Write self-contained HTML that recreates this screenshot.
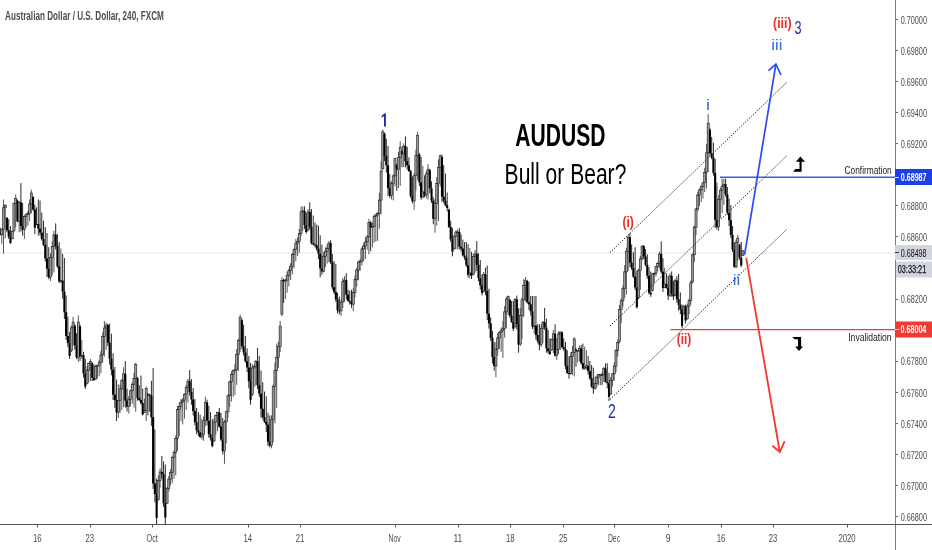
<!DOCTYPE html>
<html><head><meta charset="utf-8"><style>
html,body{margin:0;padding:0;background:#fff;}
svg{display:block;will-change:transform;}
text{font-family:"Liberation Sans",sans-serif;}
</style></head><body>
<svg width="932" height="550" viewBox="0 0 932 550">
<rect width="932" height="550" fill="#fff"/>
<line x1="0" y1="253" x2="895" y2="253" stroke="#d2d5de" stroke-width="1" stroke-dasharray="1 1"/>
<g>
<line x1="0.02" y1="227.4" x2="0.02" y2="235.6" stroke="#111" stroke-width="0.9"/>
<rect x="-1.03" y="231.5" width="2.1" height="3.3" fill="#000"/>
<line x1="1.76" y1="228.3" x2="1.76" y2="243.8" stroke="#444" stroke-width="0.9"/>
<rect x="0.71" y="229.2" width="2.1" height="5.6" fill="#9a9a9a" stroke="#111" stroke-width="0.55"/>
<line x1="3.50" y1="199.5" x2="3.50" y2="253.6" stroke="#444" stroke-width="0.9"/>
<rect x="2.45" y="207.8" width="2.1" height="21.4" fill="#9a9a9a" stroke="#111" stroke-width="0.55"/>
<line x1="5.24" y1="204.1" x2="5.24" y2="238.4" stroke="#444" stroke-width="0.9"/>
<rect x="4.19" y="205.6" width="2.1" height="2.2" fill="#9a9a9a" stroke="#111" stroke-width="0.55"/>
<line x1="6.98" y1="217.1" x2="6.98" y2="232.3" stroke="#111" stroke-width="0.9"/>
<rect x="5.93" y="217.9" width="2.1" height="12.4" fill="#000"/>
<line x1="8.72" y1="219.2" x2="8.72" y2="238.9" stroke="#111" stroke-width="0.9"/>
<rect x="7.67" y="230.3" width="2.1" height="6.6" fill="#000"/>
<line x1="10.46" y1="226.2" x2="10.46" y2="243.8" stroke="#111" stroke-width="0.9"/>
<rect x="9.41" y="236.9" width="2.1" height="6.1" fill="#000"/>
<line x1="12.20" y1="230.5" x2="12.20" y2="239.2" stroke="#444" stroke-width="0.9"/>
<rect x="11.15" y="231.6" width="2.1" height="7.2" fill="#9a9a9a" stroke="#111" stroke-width="0.55"/>
<line x1="13.94" y1="202.6" x2="13.94" y2="232.3" stroke="#444" stroke-width="0.9"/>
<rect x="12.89" y="203.7" width="2.1" height="27.1" fill="#9a9a9a" stroke="#111" stroke-width="0.55"/>
<line x1="15.68" y1="194.6" x2="15.68" y2="227.4" stroke="#444" stroke-width="0.9"/>
<rect x="14.63" y="198.3" width="2.1" height="5.4" fill="#9a9a9a" stroke="#111" stroke-width="0.55"/>
<line x1="17.42" y1="199.5" x2="17.42" y2="222.3" stroke="#111" stroke-width="0.9"/>
<rect x="16.37" y="200.6" width="2.1" height="20.7" fill="#000"/>
<line x1="19.16" y1="200.9" x2="19.16" y2="232.3" stroke="#444" stroke-width="0.9"/>
<rect x="18.11" y="202.4" width="2.1" height="18.9" fill="#9a9a9a" stroke="#111" stroke-width="0.55"/>
<line x1="20.90" y1="183.1" x2="20.90" y2="231.5" stroke="#111" stroke-width="0.9"/>
<rect x="19.85" y="202.4" width="2.1" height="23.7" fill="#000"/>
<line x1="22.64" y1="202.8" x2="22.64" y2="235.6" stroke="#111" stroke-width="0.9"/>
<rect x="21.59" y="226.2" width="2.1" height="3.3" fill="#000"/>
<line x1="24.38" y1="215.3" x2="24.38" y2="238.9" stroke="#444" stroke-width="0.9"/>
<rect x="23.33" y="216.6" width="2.1" height="12.8" fill="#9a9a9a" stroke="#111" stroke-width="0.55"/>
<line x1="26.12" y1="213.5" x2="26.12" y2="227.4" stroke="#444" stroke-width="0.9"/>
<rect x="25.07" y="214.5" width="2.1" height="2.0" fill="#9a9a9a" stroke="#111" stroke-width="0.55"/>
<line x1="27.86" y1="211.0" x2="27.86" y2="225.7" stroke="#444" stroke-width="0.9"/>
<rect x="26.81" y="213.2" width="2.1" height="1.3" fill="#9a9a9a" stroke="#111" stroke-width="0.55"/>
<line x1="29.60" y1="199.5" x2="29.60" y2="221.1" stroke="#444" stroke-width="0.9"/>
<rect x="28.55" y="204.0" width="2.1" height="9.2" fill="#9a9a9a" stroke="#111" stroke-width="0.55"/>
<line x1="31.34" y1="189.7" x2="31.34" y2="213.5" stroke="#444" stroke-width="0.9"/>
<rect x="30.29" y="193.0" width="2.1" height="11.0" fill="#9a9a9a" stroke="#111" stroke-width="0.55"/>
<line x1="33.08" y1="196.3" x2="33.08" y2="211.0" stroke="#111" stroke-width="0.9"/>
<rect x="32.03" y="197.0" width="2.1" height="12.4" fill="#000"/>
<line x1="34.82" y1="204.5" x2="34.82" y2="234.0" stroke="#111" stroke-width="0.9"/>
<rect x="33.77" y="209.5" width="2.1" height="18.2" fill="#000"/>
<line x1="36.56" y1="207.4" x2="36.56" y2="224.8" stroke="#111" stroke-width="0.9"/>
<rect x="35.51" y="223.9" width="2.1" height="1.0" fill="#000"/>
<line x1="38.30" y1="199.5" x2="38.30" y2="235.6" stroke="#111" stroke-width="0.9"/>
<rect x="37.25" y="224.1" width="2.1" height="4.5" fill="#000"/>
<line x1="40.04" y1="200.5" x2="40.04" y2="235.5" stroke="#111" stroke-width="0.9"/>
<rect x="38.99" y="228.6" width="2.1" height="3.9" fill="#000"/>
<line x1="41.78" y1="212.5" x2="41.78" y2="240.6" stroke="#111" stroke-width="0.9"/>
<rect x="40.73" y="232.5" width="2.1" height="6.5" fill="#000"/>
<line x1="43.52" y1="220.6" x2="43.52" y2="246.0" stroke="#111" stroke-width="0.9"/>
<rect x="42.47" y="239.0" width="2.1" height="5.7" fill="#000"/>
<line x1="45.26" y1="227.0" x2="45.26" y2="261.5" stroke="#111" stroke-width="0.9"/>
<rect x="44.21" y="244.7" width="2.1" height="13.8" fill="#000"/>
<line x1="47.00" y1="233.0" x2="47.00" y2="276.9" stroke="#111" stroke-width="0.9"/>
<rect x="45.95" y="258.4" width="2.1" height="10.4" fill="#000"/>
<line x1="48.74" y1="247.2" x2="48.74" y2="279.3" stroke="#111" stroke-width="0.9"/>
<rect x="47.69" y="268.8" width="2.1" height="8.4" fill="#000"/>
<line x1="50.48" y1="253.6" x2="50.48" y2="281.0" stroke="#444" stroke-width="0.9"/>
<rect x="49.43" y="257.5" width="2.1" height="19.8" fill="#9a9a9a" stroke="#111" stroke-width="0.55"/>
<line x1="52.22" y1="241.3" x2="52.22" y2="275.4" stroke="#444" stroke-width="0.9"/>
<rect x="51.17" y="246.5" width="2.1" height="11.0" fill="#9a9a9a" stroke="#111" stroke-width="0.55"/>
<line x1="53.96" y1="230.6" x2="53.96" y2="272.5" stroke="#444" stroke-width="0.9"/>
<rect x="52.91" y="234.8" width="2.1" height="11.7" fill="#9a9a9a" stroke="#111" stroke-width="0.55"/>
<line x1="55.70" y1="223.4" x2="55.70" y2="249.5" stroke="#111" stroke-width="0.9"/>
<rect x="54.65" y="234.8" width="2.1" height="11.3" fill="#000"/>
<line x1="57.44" y1="233.8" x2="57.44" y2="267.7" stroke="#111" stroke-width="0.9"/>
<rect x="56.39" y="246.0" width="2.1" height="20.3" fill="#000"/>
<line x1="59.18" y1="242.0" x2="59.18" y2="283.0" stroke="#111" stroke-width="0.9"/>
<rect x="58.13" y="266.3" width="2.1" height="15.0" fill="#000"/>
<line x1="60.92" y1="248.5" x2="60.92" y2="283.0" stroke="#444" stroke-width="0.9"/>
<rect x="59.87" y="280.6" width="2.1" height="1.0" fill="#9a9a9a" stroke="#111" stroke-width="0.55"/>
<line x1="62.66" y1="253.9" x2="62.66" y2="298.7" stroke="#111" stroke-width="0.9"/>
<rect x="61.61" y="280.6" width="2.1" height="11.0" fill="#000"/>
<line x1="64.40" y1="258.0" x2="64.40" y2="319.0" stroke="#111" stroke-width="0.9"/>
<rect x="63.35" y="291.6" width="2.1" height="20.6" fill="#000"/>
<line x1="66.14" y1="295.4" x2="66.14" y2="340.0" stroke="#111" stroke-width="0.9"/>
<rect x="65.09" y="312.2" width="2.1" height="23.8" fill="#000"/>
<line x1="67.88" y1="316.6" x2="67.88" y2="347.3" stroke="#111" stroke-width="0.9"/>
<rect x="66.83" y="336.0" width="2.1" height="7.0" fill="#000"/>
<line x1="69.62" y1="331.9" x2="69.62" y2="359.0" stroke="#111" stroke-width="0.9"/>
<rect x="68.57" y="343.0" width="2.1" height="12.9" fill="#000"/>
<line x1="71.36" y1="325.6" x2="71.36" y2="352.1" stroke="#444" stroke-width="0.9"/>
<rect x="70.31" y="327.9" width="2.1" height="22.9" fill="#9a9a9a" stroke="#111" stroke-width="0.55"/>
<line x1="73.10" y1="317.0" x2="73.10" y2="345.3" stroke="#444" stroke-width="0.9"/>
<rect x="72.05" y="322.1" width="2.1" height="5.7" fill="#9a9a9a" stroke="#111" stroke-width="0.55"/>
<line x1="74.84" y1="324.4" x2="74.84" y2="349.8" stroke="#111" stroke-width="0.9"/>
<rect x="73.79" y="325.7" width="2.1" height="19.9" fill="#000"/>
<line x1="76.58" y1="333.3" x2="76.58" y2="359.2" stroke="#111" stroke-width="0.9"/>
<rect x="75.53" y="345.6" width="2.1" height="11.6" fill="#000"/>
<line x1="78.32" y1="315.5" x2="78.32" y2="362.0" stroke="#444" stroke-width="0.9"/>
<rect x="77.27" y="322.0" width="2.1" height="35.3" fill="#9a9a9a" stroke="#111" stroke-width="0.55"/>
<line x1="80.06" y1="324.8" x2="80.06" y2="360.9" stroke="#111" stroke-width="0.9"/>
<rect x="79.01" y="326.6" width="2.1" height="29.6" fill="#000"/>
<line x1="81.80" y1="340.0" x2="81.80" y2="359.0" stroke="#444" stroke-width="0.9"/>
<rect x="80.75" y="355.3" width="2.1" height="1.0" fill="#9a9a9a" stroke="#111" stroke-width="0.55"/>
<line x1="83.54" y1="351.8" x2="83.54" y2="377.6" stroke="#111" stroke-width="0.9"/>
<rect x="82.49" y="355.3" width="2.1" height="18.0" fill="#000"/>
<line x1="85.28" y1="359.0" x2="85.28" y2="389.0" stroke="#111" stroke-width="0.9"/>
<rect x="84.23" y="373.3" width="2.1" height="13.2" fill="#000"/>
<line x1="87.02" y1="366.2" x2="87.02" y2="384.5" stroke="#444" stroke-width="0.9"/>
<rect x="85.97" y="370.1" width="2.1" height="13.5" fill="#9a9a9a" stroke="#111" stroke-width="0.55"/>
<line x1="88.76" y1="362.7" x2="88.76" y2="382.4" stroke="#444" stroke-width="0.9"/>
<rect x="87.71" y="363.7" width="2.1" height="6.4" fill="#9a9a9a" stroke="#111" stroke-width="0.55"/>
<line x1="90.50" y1="359.0" x2="90.50" y2="381.0" stroke="#444" stroke-width="0.9"/>
<rect x="89.45" y="361.4" width="2.1" height="2.3" fill="#9a9a9a" stroke="#111" stroke-width="0.55"/>
<line x1="92.24" y1="362.1" x2="92.24" y2="381.0" stroke="#111" stroke-width="0.9"/>
<rect x="91.19" y="363.1" width="2.1" height="14.7" fill="#000"/>
<line x1="93.98" y1="364.5" x2="93.98" y2="381.0" stroke="#111" stroke-width="0.9"/>
<rect x="92.93" y="377.7" width="2.1" height="2.3" fill="#000"/>
<line x1="95.72" y1="364.7" x2="95.72" y2="379.8" stroke="#444" stroke-width="0.9"/>
<rect x="94.67" y="366.6" width="2.1" height="12.5" fill="#9a9a9a" stroke="#111" stroke-width="0.55"/>
<line x1="97.46" y1="364.7" x2="97.46" y2="378.5" stroke="#444" stroke-width="0.9"/>
<rect x="96.41" y="365.2" width="2.1" height="1.3" fill="#9a9a9a" stroke="#111" stroke-width="0.55"/>
<line x1="99.20" y1="359.8" x2="99.20" y2="376.2" stroke="#444" stroke-width="0.9"/>
<rect x="98.15" y="362.4" width="2.1" height="2.8" fill="#9a9a9a" stroke="#111" stroke-width="0.55"/>
<line x1="100.94" y1="351.0" x2="100.94" y2="373.1" stroke="#444" stroke-width="0.9"/>
<rect x="99.89" y="354.9" width="2.1" height="7.5" fill="#9a9a9a" stroke="#111" stroke-width="0.55"/>
<line x1="102.68" y1="332.3" x2="102.68" y2="362.7" stroke="#444" stroke-width="0.9"/>
<rect x="101.63" y="336.6" width="2.1" height="18.3" fill="#9a9a9a" stroke="#111" stroke-width="0.55"/>
<line x1="104.42" y1="321.0" x2="104.42" y2="356.5" stroke="#444" stroke-width="0.9"/>
<rect x="103.37" y="328.0" width="2.1" height="8.6" fill="#9a9a9a" stroke="#111" stroke-width="0.55"/>
<line x1="106.16" y1="322.6" x2="106.16" y2="350.0" stroke="#444" stroke-width="0.9"/>
<rect x="105.11" y="325.1" width="2.1" height="2.9" fill="#9a9a9a" stroke="#111" stroke-width="0.55"/>
<line x1="107.90" y1="323.7" x2="107.90" y2="346.3" stroke="#111" stroke-width="0.9"/>
<rect x="106.85" y="325.1" width="2.1" height="17.6" fill="#000"/>
<line x1="109.64" y1="323.7" x2="109.64" y2="364.7" stroke="#111" stroke-width="0.9"/>
<rect x="108.59" y="342.6" width="2.1" height="16.2" fill="#000"/>
<line x1="111.38" y1="333.7" x2="111.38" y2="375.4" stroke="#111" stroke-width="0.9"/>
<rect x="110.33" y="358.8" width="2.1" height="10.7" fill="#000"/>
<line x1="113.12" y1="353.3" x2="113.12" y2="400.0" stroke="#111" stroke-width="0.9"/>
<rect x="112.07" y="369.6" width="2.1" height="25.0" fill="#000"/>
<line x1="114.86" y1="367.0" x2="114.86" y2="407.9" stroke="#111" stroke-width="0.9"/>
<rect x="113.81" y="394.6" width="2.1" height="5.6" fill="#000"/>
<line x1="116.60" y1="379.5" x2="116.60" y2="421.0" stroke="#111" stroke-width="0.9"/>
<rect x="115.55" y="400.1" width="2.1" height="12.2" fill="#000"/>
<line x1="118.34" y1="384.5" x2="118.34" y2="417.9" stroke="#444" stroke-width="0.9"/>
<rect x="117.29" y="400.7" width="2.1" height="11.6" fill="#9a9a9a" stroke="#111" stroke-width="0.55"/>
<line x1="120.08" y1="384.5" x2="120.08" y2="412.7" stroke="#444" stroke-width="0.9"/>
<rect x="119.03" y="388.9" width="2.1" height="11.8" fill="#9a9a9a" stroke="#111" stroke-width="0.55"/>
<line x1="121.82" y1="379.0" x2="121.82" y2="410.0" stroke="#444" stroke-width="0.9"/>
<rect x="120.77" y="380.3" width="2.1" height="8.6" fill="#9a9a9a" stroke="#111" stroke-width="0.55"/>
<line x1="123.56" y1="367.3" x2="123.56" y2="407.1" stroke="#444" stroke-width="0.9"/>
<rect x="122.51" y="373.8" width="2.1" height="6.5" fill="#9a9a9a" stroke="#111" stroke-width="0.55"/>
<line x1="125.30" y1="361.0" x2="125.30" y2="407.7" stroke="#111" stroke-width="0.9"/>
<rect x="124.25" y="373.8" width="2.1" height="26.8" fill="#000"/>
<line x1="127.04" y1="388.6" x2="127.04" y2="411.5" stroke="#111" stroke-width="0.9"/>
<rect x="125.99" y="400.6" width="2.1" height="5.9" fill="#000"/>
<line x1="128.78" y1="396.0" x2="128.78" y2="413.6" stroke="#444" stroke-width="0.9"/>
<rect x="127.73" y="399.3" width="2.1" height="7.2" fill="#9a9a9a" stroke="#111" stroke-width="0.55"/>
<line x1="130.52" y1="389.4" x2="130.52" y2="406.4" stroke="#444" stroke-width="0.9"/>
<rect x="129.47" y="390.8" width="2.1" height="8.5" fill="#9a9a9a" stroke="#111" stroke-width="0.55"/>
<line x1="132.26" y1="382.1" x2="132.26" y2="403.7" stroke="#444" stroke-width="0.9"/>
<rect x="131.21" y="384.3" width="2.1" height="6.5" fill="#9a9a9a" stroke="#111" stroke-width="0.55"/>
<line x1="134.00" y1="372.8" x2="134.00" y2="407.6" stroke="#444" stroke-width="0.9"/>
<rect x="132.95" y="378.3" width="2.1" height="6.0" fill="#9a9a9a" stroke="#111" stroke-width="0.55"/>
<line x1="135.74" y1="362.7" x2="135.74" y2="411.8" stroke="#444" stroke-width="0.9"/>
<rect x="134.69" y="364.4" width="2.1" height="13.9" fill="#9a9a9a" stroke="#111" stroke-width="0.55"/>
<line x1="137.48" y1="377.0" x2="137.48" y2="400.6" stroke="#111" stroke-width="0.9"/>
<rect x="136.43" y="378.2" width="2.1" height="19.6" fill="#000"/>
<line x1="139.22" y1="385.2" x2="139.22" y2="401.0" stroke="#111" stroke-width="0.9"/>
<rect x="138.17" y="397.8" width="2.1" height="2.2" fill="#000"/>
<line x1="140.96" y1="375.5" x2="140.96" y2="404.5" stroke="#111" stroke-width="0.9"/>
<rect x="139.91" y="400.0" width="2.1" height="3.0" fill="#000"/>
<line x1="142.70" y1="388.6" x2="142.70" y2="415.5" stroke="#111" stroke-width="0.9"/>
<rect x="141.65" y="403.0" width="2.1" height="11.4" fill="#000"/>
<line x1="144.44" y1="398.7" x2="144.44" y2="413.0" stroke="#444" stroke-width="0.9"/>
<rect x="143.39" y="410.4" width="2.1" height="1.8" fill="#9a9a9a" stroke="#111" stroke-width="0.55"/>
<line x1="146.18" y1="386.4" x2="146.18" y2="421.0" stroke="#444" stroke-width="0.9"/>
<rect x="145.13" y="388.3" width="2.1" height="22.2" fill="#9a9a9a" stroke="#111" stroke-width="0.55"/>
<line x1="147.92" y1="393.2" x2="147.92" y2="415.3" stroke="#111" stroke-width="0.9"/>
<rect x="146.87" y="394.3" width="2.1" height="1.0" fill="#000"/>
<line x1="149.66" y1="393.6" x2="149.66" y2="411.8" stroke="#111" stroke-width="0.9"/>
<rect x="148.61" y="394.9" width="2.1" height="1.0" fill="#000"/>
<line x1="151.40" y1="380.8" x2="151.40" y2="425.9" stroke="#111" stroke-width="0.9"/>
<rect x="150.35" y="395.5" width="2.1" height="21.6" fill="#000"/>
<line x1="153.14" y1="368.0" x2="153.14" y2="489.0" stroke="#111" stroke-width="0.9"/>
<rect x="152.09" y="417.1" width="2.1" height="66.4" fill="#000"/>
<line x1="154.88" y1="429.6" x2="154.88" y2="502.4" stroke="#111" stroke-width="0.9"/>
<rect x="153.83" y="483.5" width="2.1" height="10.5" fill="#000"/>
<line x1="156.62" y1="478.6" x2="156.62" y2="524.0" stroke="#111" stroke-width="0.9"/>
<rect x="155.57" y="494.0" width="2.1" height="23.9" fill="#000"/>
<line x1="158.36" y1="475.5" x2="158.36" y2="500.8" stroke="#444" stroke-width="0.9"/>
<rect x="157.31" y="480.5" width="2.1" height="19.0" fill="#9a9a9a" stroke="#111" stroke-width="0.55"/>
<line x1="160.10" y1="468.3" x2="160.10" y2="487.7" stroke="#444" stroke-width="0.9"/>
<rect x="159.05" y="471.9" width="2.1" height="8.6" fill="#9a9a9a" stroke="#111" stroke-width="0.55"/>
<line x1="161.84" y1="456.0" x2="161.84" y2="478.5" stroke="#111" stroke-width="0.9"/>
<rect x="160.79" y="471.9" width="2.1" height="2.1" fill="#000"/>
<line x1="163.58" y1="461.4" x2="163.58" y2="506.9" stroke="#111" stroke-width="0.9"/>
<rect x="162.53" y="474.1" width="2.1" height="29.1" fill="#000"/>
<line x1="165.32" y1="464.5" x2="165.32" y2="524.0" stroke="#111" stroke-width="0.9"/>
<rect x="164.27" y="503.1" width="2.1" height="14.4" fill="#000"/>
<line x1="167.06" y1="486.7" x2="167.06" y2="504.0" stroke="#444" stroke-width="0.9"/>
<rect x="166.01" y="488.4" width="2.1" height="14.7" fill="#9a9a9a" stroke="#111" stroke-width="0.55"/>
<line x1="168.80" y1="476.0" x2="168.80" y2="491.3" stroke="#444" stroke-width="0.9"/>
<rect x="167.75" y="479.0" width="2.1" height="9.4" fill="#9a9a9a" stroke="#111" stroke-width="0.55"/>
<line x1="170.54" y1="469.1" x2="170.54" y2="485.4" stroke="#444" stroke-width="0.9"/>
<rect x="169.49" y="472.6" width="2.1" height="6.5" fill="#9a9a9a" stroke="#111" stroke-width="0.55"/>
<line x1="172.28" y1="456.0" x2="172.28" y2="483.1" stroke="#444" stroke-width="0.9"/>
<rect x="171.23" y="457.6" width="2.1" height="15.0" fill="#9a9a9a" stroke="#111" stroke-width="0.55"/>
<line x1="174.02" y1="450.5" x2="174.02" y2="478.7" stroke="#444" stroke-width="0.9"/>
<rect x="172.97" y="452.3" width="2.1" height="5.3" fill="#9a9a9a" stroke="#111" stroke-width="0.55"/>
<line x1="175.76" y1="435.4" x2="175.76" y2="475.5" stroke="#444" stroke-width="0.9"/>
<rect x="174.71" y="438.4" width="2.1" height="13.9" fill="#9a9a9a" stroke="#111" stroke-width="0.55"/>
<line x1="177.50" y1="406.0" x2="177.50" y2="451.0" stroke="#444" stroke-width="0.9"/>
<rect x="176.45" y="409.3" width="2.1" height="29.1" fill="#9a9a9a" stroke="#111" stroke-width="0.55"/>
<line x1="179.24" y1="402.6" x2="179.24" y2="436.0" stroke="#444" stroke-width="0.9"/>
<rect x="178.19" y="406.7" width="2.1" height="2.6" fill="#9a9a9a" stroke="#111" stroke-width="0.55"/>
<line x1="180.98" y1="399.0" x2="180.98" y2="421.2" stroke="#444" stroke-width="0.9"/>
<rect x="179.93" y="402.1" width="2.1" height="4.6" fill="#9a9a9a" stroke="#111" stroke-width="0.55"/>
<line x1="182.72" y1="398.0" x2="182.72" y2="424.4" stroke="#444" stroke-width="0.9"/>
<rect x="181.67" y="400.1" width="2.1" height="2.0" fill="#9a9a9a" stroke="#111" stroke-width="0.55"/>
<line x1="184.46" y1="393.4" x2="184.46" y2="418.6" stroke="#444" stroke-width="0.9"/>
<rect x="183.41" y="394.2" width="2.1" height="5.9" fill="#9a9a9a" stroke="#111" stroke-width="0.55"/>
<line x1="186.20" y1="385.0" x2="186.20" y2="410.0" stroke="#444" stroke-width="0.9"/>
<rect x="185.15" y="387.7" width="2.1" height="6.5" fill="#9a9a9a" stroke="#111" stroke-width="0.55"/>
<line x1="187.94" y1="378.7" x2="187.94" y2="402.6" stroke="#444" stroke-width="0.9"/>
<rect x="186.89" y="381.1" width="2.1" height="6.6" fill="#9a9a9a" stroke="#111" stroke-width="0.55"/>
<line x1="189.68" y1="370.0" x2="189.68" y2="395.5" stroke="#111" stroke-width="0.9"/>
<rect x="188.63" y="381.1" width="2.1" height="10.9" fill="#000"/>
<line x1="191.42" y1="379.1" x2="191.42" y2="404.9" stroke="#111" stroke-width="0.9"/>
<rect x="190.37" y="392.0" width="2.1" height="7.5" fill="#000"/>
<line x1="193.16" y1="388.0" x2="193.16" y2="415.5" stroke="#111" stroke-width="0.9"/>
<rect x="192.11" y="399.5" width="2.1" height="11.6" fill="#000"/>
<line x1="194.90" y1="399.2" x2="194.90" y2="425.4" stroke="#111" stroke-width="0.9"/>
<rect x="193.85" y="411.1" width="2.1" height="11.0" fill="#000"/>
<line x1="196.64" y1="408.0" x2="196.64" y2="434.3" stroke="#111" stroke-width="0.9"/>
<rect x="195.59" y="422.1" width="2.1" height="8.3" fill="#000"/>
<line x1="198.38" y1="412.0" x2="198.38" y2="436.1" stroke="#111" stroke-width="0.9"/>
<rect x="197.33" y="430.4" width="2.1" height="1.9" fill="#000"/>
<line x1="200.12" y1="414.6" x2="200.12" y2="437.9" stroke="#111" stroke-width="0.9"/>
<rect x="199.07" y="432.3" width="2.1" height="4.7" fill="#000"/>
<line x1="201.86" y1="418.8" x2="201.86" y2="439.7" stroke="#444" stroke-width="0.9"/>
<rect x="200.81" y="434.2" width="2.1" height="2.8" fill="#9a9a9a" stroke="#111" stroke-width="0.55"/>
<line x1="203.60" y1="416.4" x2="203.60" y2="440.8" stroke="#444" stroke-width="0.9"/>
<rect x="202.55" y="420.8" width="2.1" height="13.5" fill="#9a9a9a" stroke="#111" stroke-width="0.55"/>
<line x1="205.34" y1="396.6" x2="205.34" y2="426.3" stroke="#444" stroke-width="0.9"/>
<rect x="204.29" y="402.4" width="2.1" height="18.3" fill="#9a9a9a" stroke="#111" stroke-width="0.55"/>
<line x1="207.08" y1="399.6" x2="207.08" y2="425.4" stroke="#111" stroke-width="0.9"/>
<rect x="206.03" y="402.4" width="2.1" height="18.3" fill="#000"/>
<line x1="208.82" y1="405.7" x2="208.82" y2="437.5" stroke="#111" stroke-width="0.9"/>
<rect x="207.77" y="420.7" width="2.1" height="13.4" fill="#000"/>
<line x1="210.56" y1="412.2" x2="210.56" y2="440.7" stroke="#111" stroke-width="0.9"/>
<rect x="209.51" y="434.2" width="2.1" height="3.5" fill="#000"/>
<line x1="212.30" y1="419.0" x2="212.30" y2="447.4" stroke="#111" stroke-width="0.9"/>
<rect x="211.25" y="437.7" width="2.1" height="8.3" fill="#000"/>
<line x1="214.04" y1="418.5" x2="214.04" y2="442.2" stroke="#444" stroke-width="0.9"/>
<rect x="212.99" y="422.1" width="2.1" height="18.9" fill="#9a9a9a" stroke="#111" stroke-width="0.55"/>
<line x1="215.78" y1="414.6" x2="215.78" y2="434.9" stroke="#444" stroke-width="0.9"/>
<rect x="214.73" y="415.4" width="2.1" height="6.6" fill="#9a9a9a" stroke="#111" stroke-width="0.55"/>
<line x1="217.52" y1="411.6" x2="217.52" y2="431.1" stroke="#444" stroke-width="0.9"/>
<rect x="216.47" y="412.4" width="2.1" height="3.1" fill="#9a9a9a" stroke="#111" stroke-width="0.55"/>
<line x1="219.26" y1="408.0" x2="219.26" y2="427.8" stroke="#111" stroke-width="0.9"/>
<rect x="218.21" y="412.4" width="2.1" height="14.0" fill="#000"/>
<line x1="221.00" y1="413.1" x2="221.00" y2="441.2" stroke="#111" stroke-width="0.9"/>
<rect x="219.95" y="426.4" width="2.1" height="13.1" fill="#000"/>
<line x1="222.74" y1="417.9" x2="222.74" y2="454.5" stroke="#111" stroke-width="0.9"/>
<rect x="221.69" y="439.5" width="2.1" height="11.5" fill="#000"/>
<line x1="224.48" y1="420.1" x2="224.48" y2="463.8" stroke="#444" stroke-width="0.9"/>
<rect x="223.43" y="421.9" width="2.1" height="29.2" fill="#9a9a9a" stroke="#111" stroke-width="0.55"/>
<line x1="226.22" y1="410.8" x2="226.22" y2="443.4" stroke="#444" stroke-width="0.9"/>
<rect x="225.17" y="411.8" width="2.1" height="10.1" fill="#9a9a9a" stroke="#111" stroke-width="0.55"/>
<line x1="227.96" y1="394.4" x2="227.96" y2="417.9" stroke="#444" stroke-width="0.9"/>
<rect x="226.91" y="395.8" width="2.1" height="16.0" fill="#9a9a9a" stroke="#111" stroke-width="0.55"/>
<line x1="229.70" y1="380.7" x2="229.70" y2="407.0" stroke="#444" stroke-width="0.9"/>
<rect x="228.65" y="382.0" width="2.1" height="13.8" fill="#9a9a9a" stroke="#111" stroke-width="0.55"/>
<line x1="231.44" y1="371.4" x2="231.44" y2="401.5" stroke="#444" stroke-width="0.9"/>
<rect x="230.39" y="374.3" width="2.1" height="7.6" fill="#9a9a9a" stroke="#111" stroke-width="0.55"/>
<line x1="233.18" y1="369.6" x2="233.18" y2="396.8" stroke="#444" stroke-width="0.9"/>
<rect x="232.13" y="370.6" width="2.1" height="3.8" fill="#9a9a9a" stroke="#111" stroke-width="0.55"/>
<line x1="234.92" y1="363.8" x2="234.92" y2="395.0" stroke="#444" stroke-width="0.9"/>
<rect x="233.87" y="369.9" width="2.1" height="1.0" fill="#9a9a9a" stroke="#111" stroke-width="0.55"/>
<line x1="236.66" y1="349.0" x2="236.66" y2="384.8" stroke="#444" stroke-width="0.9"/>
<rect x="235.61" y="354.2" width="2.1" height="15.7" fill="#9a9a9a" stroke="#111" stroke-width="0.55"/>
<line x1="238.40" y1="338.6" x2="238.40" y2="370.9" stroke="#444" stroke-width="0.9"/>
<rect x="237.35" y="340.5" width="2.1" height="13.8" fill="#9a9a9a" stroke="#111" stroke-width="0.55"/>
<line x1="240.14" y1="314.6" x2="240.14" y2="351.8" stroke="#444" stroke-width="0.9"/>
<rect x="239.09" y="317.5" width="2.1" height="23.0" fill="#9a9a9a" stroke="#111" stroke-width="0.55"/>
<line x1="241.88" y1="318.7" x2="241.88" y2="349.2" stroke="#111" stroke-width="0.9"/>
<rect x="240.83" y="320.2" width="2.1" height="26.1" fill="#000"/>
<line x1="243.62" y1="324.7" x2="243.62" y2="355.6" stroke="#111" stroke-width="0.9"/>
<rect x="242.57" y="346.3" width="2.1" height="6.2" fill="#000"/>
<line x1="245.36" y1="335.8" x2="245.36" y2="362.6" stroke="#111" stroke-width="0.9"/>
<rect x="244.31" y="352.5" width="2.1" height="8.6" fill="#000"/>
<line x1="247.10" y1="348.3" x2="247.10" y2="372.0" stroke="#111" stroke-width="0.9"/>
<rect x="246.05" y="361.1" width="2.1" height="6.3" fill="#000"/>
<line x1="248.84" y1="356.0" x2="248.84" y2="388.3" stroke="#111" stroke-width="0.9"/>
<rect x="247.79" y="367.5" width="2.1" height="13.8" fill="#000"/>
<line x1="250.58" y1="363.0" x2="250.58" y2="404.8" stroke="#111" stroke-width="0.9"/>
<rect x="249.53" y="381.2" width="2.1" height="18.6" fill="#000"/>
<line x1="252.32" y1="364.1" x2="252.32" y2="396.0" stroke="#444" stroke-width="0.9"/>
<rect x="251.27" y="368.0" width="2.1" height="26.4" fill="#9a9a9a" stroke="#111" stroke-width="0.55"/>
<line x1="254.06" y1="365.1" x2="254.06" y2="387.5" stroke="#444" stroke-width="0.9"/>
<rect x="253.01" y="366.2" width="2.1" height="1.8" fill="#9a9a9a" stroke="#111" stroke-width="0.55"/>
<line x1="255.80" y1="360.1" x2="255.80" y2="385.8" stroke="#444" stroke-width="0.9"/>
<rect x="254.75" y="361.4" width="2.1" height="4.8" fill="#9a9a9a" stroke="#111" stroke-width="0.55"/>
<line x1="257.54" y1="347.8" x2="257.54" y2="389.0" stroke="#111" stroke-width="0.9"/>
<rect x="256.49" y="361.4" width="2.1" height="23.7" fill="#000"/>
<line x1="259.28" y1="356.0" x2="259.28" y2="397.0" stroke="#111" stroke-width="0.9"/>
<rect x="258.23" y="385.1" width="2.1" height="8.6" fill="#000"/>
<line x1="261.02" y1="370.5" x2="261.02" y2="417.6" stroke="#111" stroke-width="0.9"/>
<rect x="259.97" y="393.7" width="2.1" height="15.1" fill="#000"/>
<line x1="262.76" y1="382.1" x2="262.76" y2="419.5" stroke="#111" stroke-width="0.9"/>
<rect x="261.71" y="408.8" width="2.1" height="8.5" fill="#000"/>
<line x1="264.50" y1="391.5" x2="264.50" y2="422.9" stroke="#111" stroke-width="0.9"/>
<rect x="263.45" y="417.2" width="2.1" height="4.6" fill="#000"/>
<line x1="266.24" y1="396.3" x2="266.24" y2="432.2" stroke="#111" stroke-width="0.9"/>
<rect x="265.19" y="421.8" width="2.1" height="2.8" fill="#000"/>
<line x1="267.98" y1="412.8" x2="267.98" y2="446.1" stroke="#111" stroke-width="0.9"/>
<rect x="266.93" y="424.6" width="2.1" height="17.2" fill="#000"/>
<line x1="269.72" y1="415.4" x2="269.72" y2="447.3" stroke="#111" stroke-width="0.9"/>
<rect x="268.67" y="441.8" width="2.1" height="3.6" fill="#000"/>
<line x1="271.46" y1="415.4" x2="271.46" y2="448.3" stroke="#444" stroke-width="0.9"/>
<rect x="270.41" y="419.8" width="2.1" height="25.6" fill="#9a9a9a" stroke="#111" stroke-width="0.55"/>
<line x1="273.20" y1="384.4" x2="273.20" y2="442.5" stroke="#444" stroke-width="0.9"/>
<rect x="272.15" y="386.4" width="2.1" height="33.3" fill="#9a9a9a" stroke="#111" stroke-width="0.55"/>
<line x1="274.94" y1="362.7" x2="274.94" y2="423.2" stroke="#444" stroke-width="0.9"/>
<rect x="273.89" y="370.6" width="2.1" height="15.8" fill="#9a9a9a" stroke="#111" stroke-width="0.55"/>
<line x1="276.68" y1="343.5" x2="276.68" y2="408.0" stroke="#444" stroke-width="0.9"/>
<rect x="275.63" y="357.4" width="2.1" height="13.2" fill="#9a9a9a" stroke="#111" stroke-width="0.55"/>
<line x1="278.42" y1="341.6" x2="278.42" y2="367.9" stroke="#444" stroke-width="0.9"/>
<rect x="277.37" y="346.7" width="2.1" height="10.7" fill="#9a9a9a" stroke="#111" stroke-width="0.55"/>
<line x1="280.16" y1="321.0" x2="280.16" y2="352.1" stroke="#444" stroke-width="0.9"/>
<rect x="279.11" y="326.1" width="2.1" height="20.6" fill="#9a9a9a" stroke="#111" stroke-width="0.55"/>
<line x1="281.90" y1="277.3" x2="281.90" y2="316.1" stroke="#444" stroke-width="0.9"/>
<rect x="280.85" y="280.4" width="2.1" height="33.7" fill="#9a9a9a" stroke="#111" stroke-width="0.55"/>
<line x1="283.64" y1="278.6" x2="283.64" y2="303.0" stroke="#111" stroke-width="0.9"/>
<rect x="282.59" y="280.4" width="2.1" height="1.0" fill="#000"/>
<line x1="285.38" y1="278.8" x2="285.38" y2="299.0" stroke="#444" stroke-width="0.9"/>
<rect x="284.33" y="280.1" width="2.1" height="1.0" fill="#9a9a9a" stroke="#111" stroke-width="0.55"/>
<line x1="287.12" y1="271.8" x2="287.12" y2="292.7" stroke="#444" stroke-width="0.9"/>
<rect x="286.07" y="275.5" width="2.1" height="4.6" fill="#9a9a9a" stroke="#111" stroke-width="0.55"/>
<line x1="288.86" y1="268.4" x2="288.86" y2="286.4" stroke="#444" stroke-width="0.9"/>
<rect x="287.81" y="270.8" width="2.1" height="4.7" fill="#9a9a9a" stroke="#111" stroke-width="0.55"/>
<line x1="290.60" y1="263.2" x2="290.60" y2="280.0" stroke="#444" stroke-width="0.9"/>
<rect x="289.55" y="266.2" width="2.1" height="4.6" fill="#9a9a9a" stroke="#111" stroke-width="0.55"/>
<line x1="292.34" y1="252.7" x2="292.34" y2="274.4" stroke="#444" stroke-width="0.9"/>
<rect x="291.29" y="254.7" width="2.1" height="11.5" fill="#9a9a9a" stroke="#111" stroke-width="0.55"/>
<line x1="294.08" y1="248.2" x2="294.08" y2="268.3" stroke="#444" stroke-width="0.9"/>
<rect x="293.03" y="249.7" width="2.1" height="5.0" fill="#9a9a9a" stroke="#111" stroke-width="0.55"/>
<line x1="295.82" y1="239.0" x2="295.82" y2="261.3" stroke="#444" stroke-width="0.9"/>
<rect x="294.77" y="243.1" width="2.1" height="6.6" fill="#9a9a9a" stroke="#111" stroke-width="0.55"/>
<line x1="297.56" y1="237.4" x2="297.56" y2="255.9" stroke="#444" stroke-width="0.9"/>
<rect x="296.51" y="241.4" width="2.1" height="1.7" fill="#9a9a9a" stroke="#111" stroke-width="0.55"/>
<line x1="299.30" y1="228.9" x2="299.30" y2="252.7" stroke="#444" stroke-width="0.9"/>
<rect x="298.25" y="233.5" width="2.1" height="7.9" fill="#9a9a9a" stroke="#111" stroke-width="0.55"/>
<line x1="301.04" y1="206.4" x2="301.04" y2="236.1" stroke="#444" stroke-width="0.9"/>
<rect x="299.99" y="211.8" width="2.1" height="21.6" fill="#9a9a9a" stroke="#111" stroke-width="0.55"/>
<line x1="302.78" y1="206.4" x2="302.78" y2="230.7" stroke="#444" stroke-width="0.9"/>
<rect x="301.73" y="210.9" width="2.1" height="1.0" fill="#9a9a9a" stroke="#111" stroke-width="0.55"/>
<line x1="304.52" y1="206.4" x2="304.52" y2="228.9" stroke="#111" stroke-width="0.9"/>
<rect x="303.47" y="210.9" width="2.1" height="14.1" fill="#000"/>
<line x1="306.26" y1="212.9" x2="306.26" y2="233.6" stroke="#111" stroke-width="0.9"/>
<rect x="305.21" y="225.0" width="2.1" height="7.0" fill="#000"/>
<line x1="308.00" y1="209.1" x2="308.00" y2="231.1" stroke="#444" stroke-width="0.9"/>
<rect x="306.95" y="211.9" width="2.1" height="18.1" fill="#9a9a9a" stroke="#111" stroke-width="0.55"/>
<line x1="309.74" y1="202.3" x2="309.74" y2="229.4" stroke="#111" stroke-width="0.9"/>
<rect x="308.69" y="211.9" width="2.1" height="14.9" fill="#000"/>
<line x1="311.48" y1="209.0" x2="311.48" y2="244.5" stroke="#111" stroke-width="0.9"/>
<rect x="310.43" y="226.8" width="2.1" height="16.5" fill="#000"/>
<line x1="313.22" y1="215.5" x2="313.22" y2="245.5" stroke="#111" stroke-width="0.9"/>
<rect x="312.17" y="243.2" width="2.1" height="1.2" fill="#000"/>
<line x1="314.96" y1="222.5" x2="314.96" y2="247.3" stroke="#111" stroke-width="0.9"/>
<rect x="313.91" y="244.4" width="2.1" height="1.0" fill="#000"/>
<line x1="316.70" y1="224.5" x2="316.70" y2="250.7" stroke="#111" stroke-width="0.9"/>
<rect x="315.65" y="245.2" width="2.1" height="3.4" fill="#000"/>
<line x1="318.44" y1="225.5" x2="318.44" y2="259.2" stroke="#111" stroke-width="0.9"/>
<rect x="317.39" y="248.6" width="2.1" height="5.1" fill="#000"/>
<line x1="320.18" y1="235.2" x2="320.18" y2="277.3" stroke="#111" stroke-width="0.9"/>
<rect x="319.13" y="253.8" width="2.1" height="14.6" fill="#000"/>
<line x1="321.92" y1="244.7" x2="321.92" y2="274.9" stroke="#111" stroke-width="0.9"/>
<rect x="320.87" y="268.4" width="2.1" height="3.0" fill="#000"/>
<line x1="323.66" y1="251.9" x2="323.66" y2="272.5" stroke="#444" stroke-width="0.9"/>
<rect x="322.61" y="256.2" width="2.1" height="15.2" fill="#9a9a9a" stroke="#111" stroke-width="0.55"/>
<line x1="325.40" y1="247.2" x2="325.40" y2="267.2" stroke="#444" stroke-width="0.9"/>
<rect x="324.35" y="251.6" width="2.1" height="4.7" fill="#9a9a9a" stroke="#111" stroke-width="0.55"/>
<line x1="327.14" y1="244.2" x2="327.14" y2="263.6" stroke="#444" stroke-width="0.9"/>
<rect x="326.09" y="248.3" width="2.1" height="3.3" fill="#9a9a9a" stroke="#111" stroke-width="0.55"/>
<line x1="328.88" y1="241.0" x2="328.88" y2="262.0" stroke="#444" stroke-width="0.9"/>
<rect x="327.83" y="243.1" width="2.1" height="5.2" fill="#9a9a9a" stroke="#111" stroke-width="0.55"/>
<line x1="330.62" y1="240.2" x2="330.62" y2="264.0" stroke="#111" stroke-width="0.9"/>
<rect x="329.57" y="243.1" width="2.1" height="19.2" fill="#000"/>
<line x1="332.36" y1="254.0" x2="332.36" y2="289.8" stroke="#111" stroke-width="0.9"/>
<rect x="331.31" y="262.3" width="2.1" height="24.9" fill="#000"/>
<line x1="334.10" y1="261.2" x2="334.10" y2="294.1" stroke="#111" stroke-width="0.9"/>
<rect x="333.05" y="287.2" width="2.1" height="4.7" fill="#000"/>
<line x1="335.84" y1="263.8" x2="335.84" y2="301.9" stroke="#111" stroke-width="0.9"/>
<rect x="334.79" y="291.9" width="2.1" height="7.4" fill="#000"/>
<line x1="337.58" y1="292.9" x2="337.58" y2="313.4" stroke="#111" stroke-width="0.9"/>
<rect x="336.53" y="299.3" width="2.1" height="11.1" fill="#000"/>
<line x1="339.32" y1="296.6" x2="339.32" y2="314.5" stroke="#111" stroke-width="0.9"/>
<rect x="338.27" y="310.4" width="2.1" height="1.0" fill="#000"/>
<line x1="341.06" y1="298.9" x2="341.06" y2="315.8" stroke="#444" stroke-width="0.9"/>
<rect x="340.01" y="302.1" width="2.1" height="8.8" fill="#9a9a9a" stroke="#111" stroke-width="0.55"/>
<line x1="342.80" y1="278.0" x2="342.80" y2="308.1" stroke="#444" stroke-width="0.9"/>
<rect x="341.75" y="281.6" width="2.1" height="20.4" fill="#9a9a9a" stroke="#111" stroke-width="0.55"/>
<line x1="344.54" y1="276.1" x2="344.54" y2="302.1" stroke="#444" stroke-width="0.9"/>
<rect x="343.49" y="280.1" width="2.1" height="1.5" fill="#9a9a9a" stroke="#111" stroke-width="0.55"/>
<line x1="346.28" y1="273.2" x2="346.28" y2="299.5" stroke="#111" stroke-width="0.9"/>
<rect x="345.23" y="280.1" width="2.1" height="14.6" fill="#000"/>
<line x1="348.02" y1="289.7" x2="348.02" y2="301.6" stroke="#111" stroke-width="0.9"/>
<rect x="346.97" y="294.7" width="2.1" height="6.3" fill="#000"/>
<line x1="349.76" y1="290.7" x2="349.76" y2="304.5" stroke="#111" stroke-width="0.9"/>
<rect x="348.71" y="301.1" width="2.1" height="1.3" fill="#000"/>
<line x1="351.50" y1="289.8" x2="351.50" y2="307.9" stroke="#111" stroke-width="0.9"/>
<rect x="350.45" y="302.3" width="2.1" height="1.9" fill="#000"/>
<line x1="353.24" y1="288.4" x2="353.24" y2="311.0" stroke="#444" stroke-width="0.9"/>
<rect x="352.19" y="292.4" width="2.1" height="11.8" fill="#9a9a9a" stroke="#111" stroke-width="0.55"/>
<line x1="354.98" y1="275.6" x2="354.98" y2="297.4" stroke="#444" stroke-width="0.9"/>
<rect x="353.93" y="279.4" width="2.1" height="13.1" fill="#9a9a9a" stroke="#111" stroke-width="0.55"/>
<line x1="356.72" y1="267.8" x2="356.72" y2="286.7" stroke="#444" stroke-width="0.9"/>
<rect x="355.67" y="270.1" width="2.1" height="9.3" fill="#9a9a9a" stroke="#111" stroke-width="0.55"/>
<line x1="358.46" y1="260.7" x2="358.46" y2="280.3" stroke="#444" stroke-width="0.9"/>
<rect x="357.41" y="262.0" width="2.1" height="8.1" fill="#9a9a9a" stroke="#111" stroke-width="0.55"/>
<line x1="360.20" y1="259.0" x2="360.20" y2="270.9" stroke="#444" stroke-width="0.9"/>
<rect x="359.15" y="261.1" width="2.1" height="1.0" fill="#9a9a9a" stroke="#111" stroke-width="0.55"/>
<line x1="361.94" y1="247.2" x2="361.94" y2="265.5" stroke="#444" stroke-width="0.9"/>
<rect x="360.89" y="248.9" width="2.1" height="12.2" fill="#9a9a9a" stroke="#111" stroke-width="0.55"/>
<line x1="363.68" y1="242.6" x2="363.68" y2="261.4" stroke="#444" stroke-width="0.9"/>
<rect x="362.63" y="246.0" width="2.1" height="2.9" fill="#9a9a9a" stroke="#111" stroke-width="0.55"/>
<line x1="365.42" y1="237.3" x2="365.42" y2="259.0" stroke="#444" stroke-width="0.9"/>
<rect x="364.37" y="241.9" width="2.1" height="4.1" fill="#9a9a9a" stroke="#111" stroke-width="0.55"/>
<line x1="367.16" y1="235.4" x2="367.16" y2="249.8" stroke="#444" stroke-width="0.9"/>
<rect x="366.11" y="236.9" width="2.1" height="5.0" fill="#9a9a9a" stroke="#111" stroke-width="0.55"/>
<line x1="368.90" y1="218.9" x2="368.90" y2="254.3" stroke="#444" stroke-width="0.9"/>
<rect x="367.85" y="222.7" width="2.1" height="14.2" fill="#9a9a9a" stroke="#111" stroke-width="0.55"/>
<line x1="370.64" y1="220.9" x2="370.64" y2="251.2" stroke="#111" stroke-width="0.9"/>
<rect x="369.59" y="222.7" width="2.1" height="4.6" fill="#000"/>
<line x1="372.38" y1="222.2" x2="372.38" y2="247.2" stroke="#444" stroke-width="0.9"/>
<rect x="371.33" y="226.4" width="2.1" height="1.0" fill="#9a9a9a" stroke="#111" stroke-width="0.55"/>
<line x1="374.12" y1="214.5" x2="374.12" y2="242.8" stroke="#444" stroke-width="0.9"/>
<rect x="373.07" y="216.3" width="2.1" height="10.1" fill="#9a9a9a" stroke="#111" stroke-width="0.55"/>
<line x1="375.86" y1="213.6" x2="375.86" y2="241.5" stroke="#444" stroke-width="0.9"/>
<rect x="374.81" y="215.1" width="2.1" height="1.1" fill="#9a9a9a" stroke="#111" stroke-width="0.55"/>
<line x1="377.60" y1="212.0" x2="377.60" y2="240.8" stroke="#444" stroke-width="0.9"/>
<rect x="376.55" y="213.7" width="2.1" height="1.4" fill="#9a9a9a" stroke="#111" stroke-width="0.55"/>
<line x1="379.34" y1="192.8" x2="379.34" y2="228.7" stroke="#444" stroke-width="0.9"/>
<rect x="378.29" y="200.1" width="2.1" height="13.6" fill="#9a9a9a" stroke="#111" stroke-width="0.55"/>
<line x1="381.08" y1="161.6" x2="381.08" y2="214.5" stroke="#444" stroke-width="0.9"/>
<rect x="380.03" y="171.3" width="2.1" height="28.8" fill="#9a9a9a" stroke="#111" stroke-width="0.55"/>
<line x1="382.82" y1="129.4" x2="382.82" y2="170.7" stroke="#444" stroke-width="0.9"/>
<rect x="381.77" y="131.8" width="2.1" height="36.9" fill="#9a9a9a" stroke="#111" stroke-width="0.55"/>
<line x1="384.56" y1="132.5" x2="384.56" y2="161.1" stroke="#111" stroke-width="0.9"/>
<rect x="383.51" y="133.9" width="2.1" height="21.8" fill="#000"/>
<line x1="386.30" y1="138.8" x2="386.30" y2="172.6" stroke="#111" stroke-width="0.9"/>
<rect x="385.25" y="155.7" width="2.1" height="9.5" fill="#000"/>
<line x1="388.04" y1="146.0" x2="388.04" y2="196.0" stroke="#111" stroke-width="0.9"/>
<rect x="386.99" y="165.3" width="2.1" height="22.9" fill="#000"/>
<line x1="389.78" y1="173.8" x2="389.78" y2="198.0" stroke="#111" stroke-width="0.9"/>
<rect x="388.73" y="188.2" width="2.1" height="7.4" fill="#000"/>
<line x1="391.52" y1="181.2" x2="391.52" y2="199.5" stroke="#444" stroke-width="0.9"/>
<rect x="390.47" y="183.6" width="2.1" height="12.0" fill="#9a9a9a" stroke="#111" stroke-width="0.55"/>
<line x1="393.26" y1="174.5" x2="393.26" y2="200.3" stroke="#444" stroke-width="0.9"/>
<rect x="392.21" y="175.9" width="2.1" height="7.7" fill="#9a9a9a" stroke="#111" stroke-width="0.55"/>
<line x1="395.00" y1="157.8" x2="395.00" y2="186.4" stroke="#444" stroke-width="0.9"/>
<rect x="393.95" y="158.7" width="2.1" height="17.2" fill="#9a9a9a" stroke="#111" stroke-width="0.55"/>
<line x1="396.74" y1="163.5" x2="396.74" y2="190.9" stroke="#111" stroke-width="0.9"/>
<rect x="395.69" y="164.9" width="2.1" height="4.5" fill="#000"/>
<line x1="398.48" y1="151.8" x2="398.48" y2="188.2" stroke="#444" stroke-width="0.9"/>
<rect x="397.43" y="157.4" width="2.1" height="12.1" fill="#9a9a9a" stroke="#111" stroke-width="0.55"/>
<line x1="400.22" y1="141.3" x2="400.22" y2="186.0" stroke="#444" stroke-width="0.9"/>
<rect x="399.17" y="147.1" width="2.1" height="10.2" fill="#9a9a9a" stroke="#111" stroke-width="0.55"/>
<line x1="401.96" y1="150.5" x2="401.96" y2="167.2" stroke="#111" stroke-width="0.9"/>
<rect x="400.91" y="151.3" width="2.1" height="2.6" fill="#000"/>
<line x1="403.70" y1="143.4" x2="403.70" y2="167.2" stroke="#444" stroke-width="0.9"/>
<rect x="402.65" y="146.1" width="2.1" height="7.9" fill="#9a9a9a" stroke="#111" stroke-width="0.55"/>
<line x1="405.44" y1="136.5" x2="405.44" y2="167.3" stroke="#111" stroke-width="0.9"/>
<rect x="404.39" y="146.1" width="2.1" height="15.2" fill="#000"/>
<line x1="407.18" y1="147.0" x2="407.18" y2="169.6" stroke="#111" stroke-width="0.9"/>
<rect x="406.13" y="161.2" width="2.1" height="4.1" fill="#000"/>
<line x1="408.92" y1="157.3" x2="408.92" y2="172.0" stroke="#111" stroke-width="0.9"/>
<rect x="407.87" y="165.4" width="2.1" height="5.6" fill="#000"/>
<line x1="410.66" y1="169.7" x2="410.66" y2="198.0" stroke="#111" stroke-width="0.9"/>
<rect x="409.61" y="171.1" width="2.1" height="24.7" fill="#000"/>
<line x1="412.40" y1="176.5" x2="412.40" y2="203.4" stroke="#111" stroke-width="0.9"/>
<rect x="411.35" y="195.8" width="2.1" height="5.3" fill="#000"/>
<line x1="414.14" y1="173.1" x2="414.14" y2="209.8" stroke="#444" stroke-width="0.9"/>
<rect x="413.09" y="175.8" width="2.1" height="25.3" fill="#9a9a9a" stroke="#111" stroke-width="0.55"/>
<line x1="415.88" y1="149.6" x2="415.88" y2="190.6" stroke="#444" stroke-width="0.9"/>
<rect x="414.83" y="155.4" width="2.1" height="20.4" fill="#9a9a9a" stroke="#111" stroke-width="0.55"/>
<line x1="417.62" y1="131.8" x2="417.62" y2="180.2" stroke="#444" stroke-width="0.9"/>
<rect x="416.57" y="135.6" width="2.1" height="19.8" fill="#9a9a9a" stroke="#111" stroke-width="0.55"/>
<line x1="419.36" y1="153.0" x2="419.36" y2="186.0" stroke="#111" stroke-width="0.9"/>
<rect x="418.31" y="154.7" width="2.1" height="27.7" fill="#000"/>
<line x1="421.10" y1="156.9" x2="421.10" y2="199.6" stroke="#111" stroke-width="0.9"/>
<rect x="420.05" y="182.4" width="2.1" height="14.9" fill="#000"/>
<line x1="422.84" y1="165.9" x2="422.84" y2="198.5" stroke="#444" stroke-width="0.9"/>
<rect x="421.79" y="191.9" width="2.1" height="5.0" fill="#9a9a9a" stroke="#111" stroke-width="0.55"/>
<line x1="424.58" y1="175.3" x2="424.58" y2="197.3" stroke="#111" stroke-width="0.9"/>
<rect x="423.53" y="191.9" width="2.1" height="3.3" fill="#000"/>
<line x1="426.32" y1="170.7" x2="426.32" y2="198.3" stroke="#444" stroke-width="0.9"/>
<rect x="425.27" y="173.9" width="2.1" height="21.2" fill="#9a9a9a" stroke="#111" stroke-width="0.55"/>
<line x1="428.06" y1="164.2" x2="428.06" y2="199.6" stroke="#444" stroke-width="0.9"/>
<rect x="427.01" y="169.2" width="2.1" height="4.7" fill="#9a9a9a" stroke="#111" stroke-width="0.55"/>
<line x1="429.80" y1="168.8" x2="429.80" y2="193.3" stroke="#111" stroke-width="0.9"/>
<rect x="428.75" y="170.1" width="2.1" height="18.3" fill="#000"/>
<line x1="431.54" y1="181.4" x2="431.54" y2="203.0" stroke="#111" stroke-width="0.9"/>
<rect x="430.49" y="188.4" width="2.1" height="12.2" fill="#000"/>
<line x1="433.28" y1="197.2" x2="433.28" y2="224.3" stroke="#111" stroke-width="0.9"/>
<rect x="432.23" y="200.6" width="2.1" height="18.1" fill="#000"/>
<line x1="435.02" y1="199.2" x2="435.02" y2="232.7" stroke="#444" stroke-width="0.9"/>
<rect x="433.97" y="203.4" width="2.1" height="15.4" fill="#9a9a9a" stroke="#111" stroke-width="0.55"/>
<line x1="436.76" y1="177.2" x2="436.76" y2="225.7" stroke="#444" stroke-width="0.9"/>
<rect x="435.71" y="183.6" width="2.1" height="19.8" fill="#9a9a9a" stroke="#111" stroke-width="0.55"/>
<line x1="438.50" y1="159.4" x2="438.50" y2="220.9" stroke="#444" stroke-width="0.9"/>
<rect x="437.45" y="167.4" width="2.1" height="16.2" fill="#9a9a9a" stroke="#111" stroke-width="0.55"/>
<line x1="440.24" y1="154.7" x2="440.24" y2="186.4" stroke="#444" stroke-width="0.9"/>
<rect x="439.19" y="155.8" width="2.1" height="11.6" fill="#9a9a9a" stroke="#111" stroke-width="0.55"/>
<line x1="441.98" y1="154.7" x2="441.98" y2="202.0" stroke="#111" stroke-width="0.9"/>
<rect x="440.93" y="157.1" width="2.1" height="39.6" fill="#000"/>
<line x1="443.72" y1="165.1" x2="443.72" y2="203.3" stroke="#111" stroke-width="0.9"/>
<rect x="442.67" y="196.6" width="2.1" height="4.2" fill="#000"/>
<line x1="445.46" y1="173.6" x2="445.46" y2="206.3" stroke="#111" stroke-width="0.9"/>
<rect x="444.41" y="200.8" width="2.1" height="4.5" fill="#000"/>
<line x1="447.20" y1="192.5" x2="447.20" y2="211.4" stroke="#111" stroke-width="0.9"/>
<rect x="446.15" y="205.2" width="2.1" height="2.7" fill="#000"/>
<line x1="448.94" y1="208.6" x2="448.94" y2="228.0" stroke="#111" stroke-width="0.9"/>
<rect x="447.89" y="209.6" width="2.1" height="17.2" fill="#000"/>
<line x1="450.68" y1="220.8" x2="450.68" y2="241.9" stroke="#111" stroke-width="0.9"/>
<rect x="449.63" y="226.8" width="2.1" height="12.6" fill="#000"/>
<line x1="452.42" y1="228.0" x2="452.42" y2="256.3" stroke="#111" stroke-width="0.9"/>
<rect x="451.37" y="239.4" width="2.1" height="12.2" fill="#000"/>
<line x1="454.16" y1="234.6" x2="454.16" y2="249.6" stroke="#444" stroke-width="0.9"/>
<rect x="453.11" y="236.6" width="2.1" height="12.2" fill="#9a9a9a" stroke="#111" stroke-width="0.55"/>
<line x1="455.90" y1="230.3" x2="455.90" y2="249.2" stroke="#444" stroke-width="0.9"/>
<rect x="454.85" y="232.0" width="2.1" height="4.6" fill="#9a9a9a" stroke="#111" stroke-width="0.55"/>
<line x1="457.64" y1="229.3" x2="457.64" y2="249.2" stroke="#444" stroke-width="0.9"/>
<rect x="456.59" y="231.9" width="2.1" height="1.0" fill="#9a9a9a" stroke="#111" stroke-width="0.55"/>
<line x1="459.38" y1="228.0" x2="459.38" y2="249.6" stroke="#111" stroke-width="0.9"/>
<rect x="458.33" y="231.9" width="2.1" height="14.8" fill="#000"/>
<line x1="461.12" y1="234.5" x2="461.12" y2="251.6" stroke="#111" stroke-width="0.9"/>
<rect x="460.07" y="246.7" width="2.1" height="1.9" fill="#000"/>
<line x1="462.86" y1="239.6" x2="462.86" y2="256.3" stroke="#111" stroke-width="0.9"/>
<rect x="461.81" y="248.5" width="2.1" height="6.9" fill="#000"/>
<line x1="464.60" y1="242.1" x2="464.60" y2="259.9" stroke="#111" stroke-width="0.9"/>
<rect x="463.55" y="255.5" width="2.1" height="2.0" fill="#000"/>
<line x1="466.34" y1="242.1" x2="466.34" y2="267.0" stroke="#111" stroke-width="0.9"/>
<rect x="465.29" y="257.4" width="2.1" height="7.7" fill="#000"/>
<line x1="468.08" y1="244.2" x2="468.08" y2="277.6" stroke="#111" stroke-width="0.9"/>
<rect x="467.03" y="265.1" width="2.1" height="9.7" fill="#000"/>
<line x1="469.82" y1="248.0" x2="469.82" y2="278.3" stroke="#444" stroke-width="0.9"/>
<rect x="468.77" y="272.9" width="2.1" height="1.9" fill="#9a9a9a" stroke="#111" stroke-width="0.55"/>
<line x1="471.56" y1="251.8" x2="471.56" y2="279.0" stroke="#111" stroke-width="0.9"/>
<rect x="470.51" y="272.9" width="2.1" height="2.7" fill="#000"/>
<line x1="473.30" y1="253.7" x2="473.30" y2="275.2" stroke="#444" stroke-width="0.9"/>
<rect x="472.25" y="256.6" width="2.1" height="17.5" fill="#9a9a9a" stroke="#111" stroke-width="0.55"/>
<line x1="475.04" y1="249.8" x2="475.04" y2="272.7" stroke="#444" stroke-width="0.9"/>
<rect x="473.99" y="253.8" width="2.1" height="2.8" fill="#9a9a9a" stroke="#111" stroke-width="0.55"/>
<line x1="476.78" y1="241.0" x2="476.78" y2="271.0" stroke="#111" stroke-width="0.9"/>
<rect x="475.73" y="253.8" width="2.1" height="11.1" fill="#000"/>
<line x1="478.52" y1="253.1" x2="478.52" y2="281.4" stroke="#111" stroke-width="0.9"/>
<rect x="477.47" y="264.9" width="2.1" height="13.2" fill="#000"/>
<line x1="480.26" y1="260.0" x2="480.26" y2="289.5" stroke="#111" stroke-width="0.9"/>
<rect x="479.21" y="278.2" width="2.1" height="7.1" fill="#000"/>
<line x1="482.00" y1="274.6" x2="482.00" y2="295.5" stroke="#111" stroke-width="0.9"/>
<rect x="480.95" y="285.2" width="2.1" height="7.7" fill="#000"/>
<line x1="483.74" y1="272.0" x2="483.74" y2="292.6" stroke="#444" stroke-width="0.9"/>
<rect x="482.69" y="274.6" width="2.1" height="16.9" fill="#9a9a9a" stroke="#111" stroke-width="0.55"/>
<line x1="485.48" y1="267.7" x2="485.48" y2="295.3" stroke="#111" stroke-width="0.9"/>
<rect x="484.43" y="274.6" width="2.1" height="16.2" fill="#000"/>
<line x1="487.22" y1="265.5" x2="487.22" y2="320.0" stroke="#111" stroke-width="0.9"/>
<rect x="486.17" y="290.9" width="2.1" height="22.8" fill="#000"/>
<line x1="488.96" y1="288.8" x2="488.96" y2="328.6" stroke="#111" stroke-width="0.9"/>
<rect x="487.91" y="313.7" width="2.1" height="9.7" fill="#000"/>
<line x1="490.70" y1="317.3" x2="490.70" y2="340.8" stroke="#111" stroke-width="0.9"/>
<rect x="489.65" y="323.3" width="2.1" height="14.6" fill="#000"/>
<line x1="492.44" y1="331.0" x2="492.44" y2="363.6" stroke="#111" stroke-width="0.9"/>
<rect x="491.39" y="338.0" width="2.1" height="18.8" fill="#000"/>
<line x1="494.18" y1="342.0" x2="494.18" y2="370.7" stroke="#111" stroke-width="0.9"/>
<rect x="493.13" y="356.8" width="2.1" height="9.2" fill="#000"/>
<line x1="495.92" y1="342.2" x2="495.92" y2="377.3" stroke="#444" stroke-width="0.9"/>
<rect x="494.87" y="349.1" width="2.1" height="16.9" fill="#9a9a9a" stroke="#111" stroke-width="0.55"/>
<line x1="497.66" y1="333.3" x2="497.66" y2="355.5" stroke="#444" stroke-width="0.9"/>
<rect x="496.61" y="337.9" width="2.1" height="11.2" fill="#9a9a9a" stroke="#111" stroke-width="0.55"/>
<line x1="499.40" y1="331.0" x2="499.40" y2="349.1" stroke="#444" stroke-width="0.9"/>
<rect x="498.35" y="332.4" width="2.1" height="5.5" fill="#9a9a9a" stroke="#111" stroke-width="0.55"/>
<line x1="501.14" y1="327.5" x2="501.14" y2="351.8" stroke="#444" stroke-width="0.9"/>
<rect x="500.09" y="330.8" width="2.1" height="1.6" fill="#9a9a9a" stroke="#111" stroke-width="0.55"/>
<line x1="502.88" y1="321.1" x2="502.88" y2="358.0" stroke="#444" stroke-width="0.9"/>
<rect x="501.83" y="328.8" width="2.1" height="2.0" fill="#9a9a9a" stroke="#111" stroke-width="0.55"/>
<line x1="504.62" y1="305.9" x2="504.62" y2="337.6" stroke="#444" stroke-width="0.9"/>
<rect x="503.57" y="311.9" width="2.1" height="16.9" fill="#9a9a9a" stroke="#111" stroke-width="0.55"/>
<line x1="506.36" y1="297.3" x2="506.36" y2="328.2" stroke="#444" stroke-width="0.9"/>
<rect x="505.31" y="299.1" width="2.1" height="12.8" fill="#9a9a9a" stroke="#111" stroke-width="0.55"/>
<line x1="508.10" y1="295.5" x2="508.10" y2="315.0" stroke="#444" stroke-width="0.9"/>
<rect x="507.05" y="296.5" width="2.1" height="2.5" fill="#9a9a9a" stroke="#111" stroke-width="0.55"/>
<line x1="509.84" y1="298.8" x2="509.84" y2="317.8" stroke="#111" stroke-width="0.9"/>
<rect x="508.79" y="299.8" width="2.1" height="15.9" fill="#000"/>
<line x1="511.58" y1="301.0" x2="511.58" y2="322.8" stroke="#111" stroke-width="0.9"/>
<rect x="510.53" y="315.7" width="2.1" height="6.1" fill="#000"/>
<line x1="513.32" y1="301.0" x2="513.32" y2="331.0" stroke="#111" stroke-width="0.9"/>
<rect x="512.27" y="321.8" width="2.1" height="6.9" fill="#000"/>
<line x1="515.06" y1="298.1" x2="515.06" y2="328.1" stroke="#444" stroke-width="0.9"/>
<rect x="514.01" y="299.4" width="2.1" height="27.2" fill="#9a9a9a" stroke="#111" stroke-width="0.55"/>
<line x1="516.80" y1="295.5" x2="516.80" y2="329.5" stroke="#111" stroke-width="0.9"/>
<rect x="515.75" y="299.4" width="2.1" height="24.7" fill="#000"/>
<line x1="518.54" y1="308.4" x2="518.54" y2="352.7" stroke="#111" stroke-width="0.9"/>
<rect x="517.49" y="324.2" width="2.1" height="20.6" fill="#000"/>
<line x1="520.28" y1="307.8" x2="520.28" y2="346.0" stroke="#444" stroke-width="0.9"/>
<rect x="519.23" y="315.4" width="2.1" height="28.6" fill="#9a9a9a" stroke="#111" stroke-width="0.55"/>
<line x1="522.02" y1="297.3" x2="522.02" y2="339.0" stroke="#444" stroke-width="0.9"/>
<rect x="520.97" y="299.8" width="2.1" height="15.6" fill="#9a9a9a" stroke="#111" stroke-width="0.55"/>
<line x1="523.76" y1="279.1" x2="523.76" y2="317.2" stroke="#444" stroke-width="0.9"/>
<rect x="522.71" y="285.5" width="2.1" height="14.3" fill="#9a9a9a" stroke="#111" stroke-width="0.55"/>
<line x1="525.50" y1="277.0" x2="525.50" y2="301.4" stroke="#444" stroke-width="0.9"/>
<rect x="524.45" y="280.8" width="2.1" height="4.7" fill="#9a9a9a" stroke="#111" stroke-width="0.55"/>
<line x1="527.24" y1="279.7" x2="527.24" y2="303.6" stroke="#111" stroke-width="0.9"/>
<rect x="526.19" y="280.9" width="2.1" height="21.4" fill="#000"/>
<line x1="528.98" y1="281.8" x2="528.98" y2="309.9" stroke="#111" stroke-width="0.9"/>
<rect x="527.93" y="302.2" width="2.1" height="2.1" fill="#000"/>
<line x1="530.72" y1="296.0" x2="530.72" y2="315.6" stroke="#111" stroke-width="0.9"/>
<rect x="529.67" y="304.3" width="2.1" height="7.1" fill="#000"/>
<line x1="532.46" y1="296.0" x2="532.46" y2="329.0" stroke="#111" stroke-width="0.9"/>
<rect x="531.41" y="311.4" width="2.1" height="15.2" fill="#000"/>
<line x1="534.20" y1="296.0" x2="534.20" y2="333.8" stroke="#444" stroke-width="0.9"/>
<rect x="533.15" y="325.8" width="2.1" height="1.0" fill="#9a9a9a" stroke="#111" stroke-width="0.55"/>
<line x1="535.94" y1="296.0" x2="535.94" y2="339.6" stroke="#111" stroke-width="0.9"/>
<rect x="534.89" y="325.8" width="2.1" height="9.2" fill="#000"/>
<line x1="537.68" y1="324.1" x2="537.68" y2="343.2" stroke="#111" stroke-width="0.9"/>
<rect x="536.63" y="335.0" width="2.1" height="5.9" fill="#000"/>
<line x1="539.42" y1="324.3" x2="539.42" y2="350.3" stroke="#111" stroke-width="0.9"/>
<rect x="538.37" y="340.9" width="2.1" height="3.8" fill="#000"/>
<line x1="541.16" y1="324.3" x2="541.16" y2="347.0" stroke="#444" stroke-width="0.9"/>
<rect x="540.11" y="328.6" width="2.1" height="16.1" fill="#9a9a9a" stroke="#111" stroke-width="0.55"/>
<line x1="542.90" y1="320.9" x2="542.90" y2="343.2" stroke="#444" stroke-width="0.9"/>
<rect x="541.85" y="322.2" width="2.1" height="6.4" fill="#9a9a9a" stroke="#111" stroke-width="0.55"/>
<line x1="544.64" y1="307.8" x2="544.64" y2="329.9" stroke="#111" stroke-width="0.9"/>
<rect x="543.59" y="322.2" width="2.1" height="5.2" fill="#000"/>
<line x1="546.38" y1="318.7" x2="546.38" y2="352.7" stroke="#111" stroke-width="0.9"/>
<rect x="545.33" y="327.5" width="2.1" height="20.9" fill="#000"/>
<line x1="548.12" y1="330.0" x2="548.12" y2="353.6" stroke="#111" stroke-width="0.9"/>
<rect x="547.07" y="348.3" width="2.1" height="3.0" fill="#000"/>
<line x1="549.86" y1="338.5" x2="549.86" y2="355.0" stroke="#111" stroke-width="0.9"/>
<rect x="548.81" y="351.4" width="2.1" height="2.5" fill="#000"/>
<line x1="551.60" y1="338.5" x2="551.60" y2="350.9" stroke="#444" stroke-width="0.9"/>
<rect x="550.55" y="339.6" width="2.1" height="10.6" fill="#9a9a9a" stroke="#111" stroke-width="0.55"/>
<line x1="553.34" y1="330.0" x2="553.34" y2="353.1" stroke="#444" stroke-width="0.9"/>
<rect x="552.29" y="333.8" width="2.1" height="5.8" fill="#9a9a9a" stroke="#111" stroke-width="0.55"/>
<line x1="555.08" y1="324.3" x2="555.08" y2="356.6" stroke="#111" stroke-width="0.9"/>
<rect x="554.03" y="333.8" width="2.1" height="21.7" fill="#000"/>
<line x1="556.82" y1="337.8" x2="556.82" y2="359.8" stroke="#444" stroke-width="0.9"/>
<rect x="555.77" y="349.5" width="2.1" height="6.0" fill="#9a9a9a" stroke="#111" stroke-width="0.55"/>
<line x1="558.56" y1="331.4" x2="558.56" y2="354.0" stroke="#444" stroke-width="0.9"/>
<rect x="557.51" y="334.0" width="2.1" height="15.6" fill="#9a9a9a" stroke="#111" stroke-width="0.55"/>
<line x1="560.30" y1="331.4" x2="560.30" y2="350.0" stroke="#444" stroke-width="0.9"/>
<rect x="559.25" y="332.0" width="2.1" height="1.9" fill="#9a9a9a" stroke="#111" stroke-width="0.55"/>
<line x1="562.04" y1="331.4" x2="562.04" y2="348.7" stroke="#111" stroke-width="0.9"/>
<rect x="560.99" y="332.3" width="2.1" height="14.8" fill="#000"/>
<line x1="563.78" y1="338.5" x2="563.78" y2="350.9" stroke="#111" stroke-width="0.9"/>
<rect x="562.73" y="347.1" width="2.1" height="2.0" fill="#000"/>
<line x1="565.52" y1="342.1" x2="565.52" y2="369.2" stroke="#111" stroke-width="0.9"/>
<rect x="564.47" y="349.1" width="2.1" height="16.7" fill="#000"/>
<line x1="567.26" y1="350.4" x2="567.26" y2="374.0" stroke="#111" stroke-width="0.9"/>
<rect x="566.21" y="365.7" width="2.1" height="7.2" fill="#000"/>
<line x1="569.00" y1="356.3" x2="569.00" y2="378.7" stroke="#111" stroke-width="0.9"/>
<rect x="567.95" y="373.0" width="2.1" height="1.0" fill="#000"/>
<line x1="570.74" y1="352.4" x2="570.74" y2="374.8" stroke="#444" stroke-width="0.9"/>
<rect x="569.69" y="356.4" width="2.1" height="17.3" fill="#9a9a9a" stroke="#111" stroke-width="0.55"/>
<line x1="572.48" y1="346.0" x2="572.48" y2="375.1" stroke="#444" stroke-width="0.9"/>
<rect x="571.43" y="352.2" width="2.1" height="4.2" fill="#9a9a9a" stroke="#111" stroke-width="0.55"/>
<line x1="574.22" y1="337.0" x2="574.22" y2="376.4" stroke="#444" stroke-width="0.9"/>
<rect x="573.17" y="339.0" width="2.1" height="13.3" fill="#9a9a9a" stroke="#111" stroke-width="0.55"/>
<line x1="575.96" y1="348.4" x2="575.96" y2="366.7" stroke="#111" stroke-width="0.9"/>
<rect x="574.91" y="349.4" width="2.1" height="1.0" fill="#000"/>
<line x1="577.70" y1="350.0" x2="577.70" y2="362.5" stroke="#444" stroke-width="0.9"/>
<rect x="576.65" y="350.5" width="2.1" height="1.0" fill="#9a9a9a" stroke="#111" stroke-width="0.55"/>
<line x1="579.44" y1="345.8" x2="579.44" y2="361.3" stroke="#444" stroke-width="0.9"/>
<rect x="578.39" y="348.6" width="2.1" height="1.9" fill="#9a9a9a" stroke="#111" stroke-width="0.55"/>
<line x1="581.18" y1="344.9" x2="581.18" y2="364.7" stroke="#111" stroke-width="0.9"/>
<rect x="580.13" y="348.6" width="2.1" height="14.5" fill="#000"/>
<line x1="582.92" y1="343.6" x2="582.92" y2="369.8" stroke="#111" stroke-width="0.9"/>
<rect x="581.87" y="363.1" width="2.1" height="5.3" fill="#000"/>
<line x1="584.66" y1="346.7" x2="584.66" y2="369.8" stroke="#444" stroke-width="0.9"/>
<rect x="583.61" y="367.3" width="2.1" height="1.1" fill="#9a9a9a" stroke="#111" stroke-width="0.55"/>
<line x1="586.40" y1="350.2" x2="586.40" y2="369.8" stroke="#444" stroke-width="0.9"/>
<rect x="585.35" y="365.8" width="2.1" height="1.4" fill="#9a9a9a" stroke="#111" stroke-width="0.55"/>
<line x1="588.14" y1="356.1" x2="588.14" y2="374.5" stroke="#111" stroke-width="0.9"/>
<rect x="587.09" y="365.8" width="2.1" height="5.3" fill="#000"/>
<line x1="589.88" y1="361.0" x2="589.88" y2="379.8" stroke="#111" stroke-width="0.9"/>
<rect x="588.83" y="371.1" width="2.1" height="7.2" fill="#000"/>
<line x1="591.62" y1="365.0" x2="591.62" y2="387.9" stroke="#111" stroke-width="0.9"/>
<rect x="590.57" y="378.3" width="2.1" height="8.2" fill="#000"/>
<line x1="593.36" y1="367.6" x2="593.36" y2="393.8" stroke="#111" stroke-width="0.9"/>
<rect x="592.31" y="386.5" width="2.1" height="1.9" fill="#000"/>
<line x1="595.10" y1="376.4" x2="595.10" y2="389.5" stroke="#444" stroke-width="0.9"/>
<rect x="594.05" y="383.5" width="2.1" height="4.9" fill="#9a9a9a" stroke="#111" stroke-width="0.55"/>
<line x1="596.84" y1="375.2" x2="596.84" y2="387.2" stroke="#444" stroke-width="0.9"/>
<rect x="595.79" y="377.2" width="2.1" height="6.3" fill="#9a9a9a" stroke="#111" stroke-width="0.55"/>
<line x1="598.58" y1="374.2" x2="598.58" y2="385.1" stroke="#444" stroke-width="0.9"/>
<rect x="597.53" y="374.7" width="2.1" height="2.5" fill="#9a9a9a" stroke="#111" stroke-width="0.55"/>
<line x1="600.32" y1="374.2" x2="600.32" y2="385.1" stroke="#444" stroke-width="0.9"/>
<rect x="599.27" y="374.6" width="2.1" height="1.0" fill="#9a9a9a" stroke="#111" stroke-width="0.55"/>
<line x1="602.06" y1="372.7" x2="602.06" y2="385.1" stroke="#111" stroke-width="0.9"/>
<rect x="601.01" y="374.6" width="2.1" height="1.0" fill="#000"/>
<line x1="603.80" y1="366.9" x2="603.80" y2="382.2" stroke="#444" stroke-width="0.9"/>
<rect x="602.75" y="368.6" width="2.1" height="6.1" fill="#9a9a9a" stroke="#111" stroke-width="0.55"/>
<line x1="605.54" y1="363.3" x2="605.54" y2="382.6" stroke="#111" stroke-width="0.9"/>
<rect x="604.49" y="368.6" width="2.1" height="13.2" fill="#000"/>
<line x1="607.28" y1="363.3" x2="607.28" y2="388.4" stroke="#111" stroke-width="0.9"/>
<rect x="606.23" y="381.8" width="2.1" height="1.4" fill="#000"/>
<line x1="609.02" y1="372.8" x2="609.02" y2="401.0" stroke="#111" stroke-width="0.9"/>
<rect x="607.97" y="383.2" width="2.1" height="13.6" fill="#000"/>
<line x1="610.76" y1="377.1" x2="610.76" y2="394.8" stroke="#444" stroke-width="0.9"/>
<rect x="609.71" y="380.3" width="2.1" height="13.6" fill="#9a9a9a" stroke="#111" stroke-width="0.55"/>
<line x1="612.50" y1="373.3" x2="612.50" y2="386.4" stroke="#444" stroke-width="0.9"/>
<rect x="611.45" y="373.9" width="2.1" height="6.4" fill="#9a9a9a" stroke="#111" stroke-width="0.55"/>
<line x1="614.24" y1="362.5" x2="614.24" y2="380.7" stroke="#444" stroke-width="0.9"/>
<rect x="613.19" y="366.0" width="2.1" height="7.9" fill="#9a9a9a" stroke="#111" stroke-width="0.55"/>
<line x1="615.98" y1="349.3" x2="615.98" y2="372.0" stroke="#444" stroke-width="0.9"/>
<rect x="614.93" y="350.3" width="2.1" height="15.8" fill="#9a9a9a" stroke="#111" stroke-width="0.55"/>
<line x1="617.72" y1="339.3" x2="617.72" y2="356.7" stroke="#444" stroke-width="0.9"/>
<rect x="616.67" y="342.7" width="2.1" height="7.6" fill="#9a9a9a" stroke="#111" stroke-width="0.55"/>
<line x1="619.46" y1="305.0" x2="619.46" y2="343.4" stroke="#444" stroke-width="0.9"/>
<rect x="618.41" y="309.5" width="2.1" height="32.0" fill="#9a9a9a" stroke="#111" stroke-width="0.55"/>
<line x1="621.20" y1="298.5" x2="621.20" y2="322.9" stroke="#444" stroke-width="0.9"/>
<rect x="620.15" y="300.8" width="2.1" height="8.7" fill="#9a9a9a" stroke="#111" stroke-width="0.55"/>
<line x1="622.94" y1="285.6" x2="622.94" y2="306.5" stroke="#444" stroke-width="0.9"/>
<rect x="621.89" y="288.5" width="2.1" height="12.3" fill="#9a9a9a" stroke="#111" stroke-width="0.55"/>
<line x1="624.68" y1="265.1" x2="624.68" y2="297.9" stroke="#444" stroke-width="0.9"/>
<rect x="623.63" y="271.9" width="2.1" height="16.6" fill="#9a9a9a" stroke="#111" stroke-width="0.55"/>
<line x1="626.42" y1="247.8" x2="626.42" y2="294.5" stroke="#444" stroke-width="0.9"/>
<rect x="625.37" y="251.6" width="2.1" height="20.3" fill="#9a9a9a" stroke="#111" stroke-width="0.55"/>
<line x1="628.16" y1="235.2" x2="628.16" y2="270.9" stroke="#444" stroke-width="0.9"/>
<rect x="627.11" y="237.2" width="2.1" height="14.4" fill="#9a9a9a" stroke="#111" stroke-width="0.55"/>
<line x1="629.90" y1="233.0" x2="629.90" y2="267.0" stroke="#111" stroke-width="0.9"/>
<rect x="628.85" y="237.2" width="2.1" height="25.4" fill="#000"/>
<line x1="631.64" y1="244.5" x2="631.64" y2="269.9" stroke="#111" stroke-width="0.9"/>
<rect x="630.59" y="262.6" width="2.1" height="5.4" fill="#000"/>
<line x1="633.38" y1="252.3" x2="633.38" y2="277.9" stroke="#111" stroke-width="0.9"/>
<rect x="632.33" y="268.0" width="2.1" height="8.6" fill="#000"/>
<line x1="635.12" y1="247.2" x2="635.12" y2="290.0" stroke="#111" stroke-width="0.9"/>
<rect x="634.07" y="276.6" width="2.1" height="10.8" fill="#000"/>
<line x1="636.86" y1="270.8" x2="636.86" y2="308.7" stroke="#111" stroke-width="0.9"/>
<rect x="635.81" y="287.4" width="2.1" height="19.8" fill="#000"/>
<line x1="638.60" y1="268.5" x2="638.60" y2="299.2" stroke="#444" stroke-width="0.9"/>
<rect x="637.55" y="270.6" width="2.1" height="27.1" fill="#9a9a9a" stroke="#111" stroke-width="0.55"/>
<line x1="640.34" y1="255.8" x2="640.34" y2="289.8" stroke="#444" stroke-width="0.9"/>
<rect x="639.29" y="258.9" width="2.1" height="11.7" fill="#9a9a9a" stroke="#111" stroke-width="0.55"/>
<line x1="642.08" y1="244.9" x2="642.08" y2="260.5" stroke="#444" stroke-width="0.9"/>
<rect x="641.03" y="246.3" width="2.1" height="12.6" fill="#9a9a9a" stroke="#111" stroke-width="0.55"/>
<line x1="643.82" y1="244.9" x2="643.82" y2="259.0" stroke="#111" stroke-width="0.9"/>
<rect x="642.77" y="246.3" width="2.1" height="10.3" fill="#000"/>
<line x1="645.56" y1="249.1" x2="645.56" y2="266.3" stroke="#111" stroke-width="0.9"/>
<rect x="644.51" y="256.5" width="2.1" height="8.3" fill="#000"/>
<line x1="647.30" y1="254.3" x2="647.30" y2="278.7" stroke="#111" stroke-width="0.9"/>
<rect x="646.25" y="264.9" width="2.1" height="10.8" fill="#000"/>
<line x1="649.04" y1="267.0" x2="649.04" y2="294.5" stroke="#111" stroke-width="0.9"/>
<rect x="647.99" y="275.7" width="2.1" height="17.0" fill="#000"/>
<line x1="650.78" y1="271.5" x2="650.78" y2="296.9" stroke="#111" stroke-width="0.9"/>
<rect x="649.73" y="292.7" width="2.1" height="1.7" fill="#000"/>
<line x1="652.52" y1="273.2" x2="652.52" y2="291.5" stroke="#444" stroke-width="0.9"/>
<rect x="651.47" y="273.8" width="2.1" height="16.7" fill="#9a9a9a" stroke="#111" stroke-width="0.55"/>
<line x1="654.26" y1="272.4" x2="654.26" y2="282.7" stroke="#444" stroke-width="0.9"/>
<rect x="653.21" y="273.2" width="2.1" height="1.0" fill="#9a9a9a" stroke="#111" stroke-width="0.55"/>
<line x1="656.00" y1="266.1" x2="656.00" y2="276.5" stroke="#444" stroke-width="0.9"/>
<rect x="654.95" y="266.4" width="2.1" height="6.8" fill="#9a9a9a" stroke="#111" stroke-width="0.55"/>
<line x1="657.74" y1="261.8" x2="657.74" y2="271.3" stroke="#444" stroke-width="0.9"/>
<rect x="656.69" y="263.4" width="2.1" height="3.0" fill="#9a9a9a" stroke="#111" stroke-width="0.55"/>
<line x1="659.48" y1="251.7" x2="659.48" y2="268.5" stroke="#444" stroke-width="0.9"/>
<rect x="658.43" y="254.0" width="2.1" height="9.5" fill="#9a9a9a" stroke="#111" stroke-width="0.55"/>
<line x1="661.22" y1="241.3" x2="661.22" y2="273.7" stroke="#111" stroke-width="0.9"/>
<rect x="660.17" y="254.0" width="2.1" height="17.6" fill="#000"/>
<line x1="662.96" y1="258.2" x2="662.96" y2="292.0" stroke="#111" stroke-width="0.9"/>
<rect x="661.91" y="271.6" width="2.1" height="16.4" fill="#000"/>
<line x1="664.70" y1="267.8" x2="664.70" y2="288.2" stroke="#444" stroke-width="0.9"/>
<rect x="663.65" y="284.0" width="2.1" height="3.2" fill="#9a9a9a" stroke="#111" stroke-width="0.55"/>
<line x1="666.44" y1="273.2" x2="666.44" y2="288.7" stroke="#111" stroke-width="0.9"/>
<rect x="665.39" y="284.0" width="2.1" height="3.9" fill="#000"/>
<line x1="668.18" y1="275.8" x2="668.18" y2="300.0" stroke="#111" stroke-width="0.9"/>
<rect x="667.13" y="287.9" width="2.1" height="7.6" fill="#000"/>
<line x1="669.92" y1="273.3" x2="669.92" y2="297.1" stroke="#444" stroke-width="0.9"/>
<rect x="668.87" y="275.9" width="2.1" height="19.6" fill="#9a9a9a" stroke="#111" stroke-width="0.55"/>
<line x1="671.66" y1="271.5" x2="671.66" y2="296.7" stroke="#111" stroke-width="0.9"/>
<rect x="670.61" y="275.9" width="2.1" height="17.7" fill="#000"/>
<line x1="673.40" y1="280.9" x2="673.40" y2="300.0" stroke="#111" stroke-width="0.9"/>
<rect x="672.35" y="293.6" width="2.1" height="2.8" fill="#000"/>
<line x1="675.14" y1="278.6" x2="675.14" y2="296.3" stroke="#444" stroke-width="0.9"/>
<rect x="674.09" y="280.5" width="2.1" height="15.0" fill="#9a9a9a" stroke="#111" stroke-width="0.55"/>
<line x1="676.88" y1="276.2" x2="676.88" y2="302.5" stroke="#111" stroke-width="0.9"/>
<rect x="675.83" y="280.5" width="2.1" height="18.7" fill="#000"/>
<line x1="678.62" y1="274.0" x2="678.62" y2="310.6" stroke="#111" stroke-width="0.9"/>
<rect x="677.57" y="299.2" width="2.1" height="5.6" fill="#000"/>
<line x1="680.36" y1="292.5" x2="680.36" y2="314.1" stroke="#111" stroke-width="0.9"/>
<rect x="679.31" y="304.7" width="2.1" height="4.7" fill="#000"/>
<line x1="682.10" y1="304.7" x2="682.10" y2="328.3" stroke="#111" stroke-width="0.9"/>
<rect x="681.05" y="309.4" width="2.1" height="16.6" fill="#000"/>
<line x1="683.84" y1="304.7" x2="683.84" y2="314.5" stroke="#444" stroke-width="0.9"/>
<rect x="682.79" y="306.5" width="2.1" height="7.4" fill="#9a9a9a" stroke="#111" stroke-width="0.55"/>
<line x1="685.58" y1="304.7" x2="685.58" y2="323.6" stroke="#111" stroke-width="0.9"/>
<rect x="684.53" y="306.5" width="2.1" height="14.0" fill="#000"/>
<line x1="687.32" y1="303.7" x2="687.32" y2="319.6" stroke="#444" stroke-width="0.9"/>
<rect x="686.27" y="306.1" width="2.1" height="12.7" fill="#9a9a9a" stroke="#111" stroke-width="0.55"/>
<line x1="689.06" y1="298.7" x2="689.06" y2="314.1" stroke="#444" stroke-width="0.9"/>
<rect x="688.01" y="300.4" width="2.1" height="5.7" fill="#9a9a9a" stroke="#111" stroke-width="0.55"/>
<line x1="690.80" y1="280.4" x2="690.80" y2="304.7" stroke="#444" stroke-width="0.9"/>
<rect x="689.75" y="282.8" width="2.1" height="17.6" fill="#9a9a9a" stroke="#111" stroke-width="0.55"/>
<line x1="692.54" y1="253.6" x2="692.54" y2="283.4" stroke="#444" stroke-width="0.9"/>
<rect x="691.49" y="254.8" width="2.1" height="27.1" fill="#9a9a9a" stroke="#111" stroke-width="0.55"/>
<line x1="694.28" y1="225.2" x2="694.28" y2="262.0" stroke="#444" stroke-width="0.9"/>
<rect x="693.23" y="227.2" width="2.1" height="27.6" fill="#9a9a9a" stroke="#111" stroke-width="0.55"/>
<line x1="696.02" y1="207.8" x2="696.02" y2="235.0" stroke="#444" stroke-width="0.9"/>
<rect x="694.97" y="209.0" width="2.1" height="18.3" fill="#9a9a9a" stroke="#111" stroke-width="0.55"/>
<line x1="697.76" y1="191.6" x2="697.76" y2="211.5" stroke="#444" stroke-width="0.9"/>
<rect x="696.71" y="195.0" width="2.1" height="14.0" fill="#9a9a9a" stroke="#111" stroke-width="0.55"/>
<line x1="699.50" y1="188.5" x2="699.50" y2="205.9" stroke="#444" stroke-width="0.9"/>
<rect x="698.45" y="189.9" width="2.1" height="5.1" fill="#9a9a9a" stroke="#111" stroke-width="0.55"/>
<line x1="701.24" y1="185.7" x2="701.24" y2="202.1" stroke="#444" stroke-width="0.9"/>
<rect x="700.19" y="186.7" width="2.1" height="3.2" fill="#9a9a9a" stroke="#111" stroke-width="0.55"/>
<line x1="702.98" y1="182.0" x2="702.98" y2="198.6" stroke="#444" stroke-width="0.9"/>
<rect x="701.93" y="182.8" width="2.1" height="3.9" fill="#9a9a9a" stroke="#111" stroke-width="0.55"/>
<line x1="704.72" y1="167.7" x2="704.72" y2="192.2" stroke="#444" stroke-width="0.9"/>
<rect x="703.67" y="172.3" width="2.1" height="10.4" fill="#9a9a9a" stroke="#111" stroke-width="0.55"/>
<line x1="706.46" y1="144.1" x2="706.46" y2="188.5" stroke="#444" stroke-width="0.9"/>
<rect x="705.41" y="152.8" width="2.1" height="19.5" fill="#9a9a9a" stroke="#111" stroke-width="0.55"/>
<line x1="708.20" y1="114.0" x2="708.20" y2="172.0" stroke="#444" stroke-width="0.9"/>
<rect x="707.15" y="123.1" width="2.1" height="29.7" fill="#9a9a9a" stroke="#111" stroke-width="0.55"/>
<line x1="709.94" y1="128.3" x2="709.94" y2="155.6" stroke="#111" stroke-width="0.9"/>
<rect x="708.89" y="129.7" width="2.1" height="23.6" fill="#000"/>
<line x1="711.68" y1="136.9" x2="711.68" y2="159.2" stroke="#111" stroke-width="0.9"/>
<rect x="710.63" y="153.3" width="2.1" height="4.2" fill="#000"/>
<line x1="713.42" y1="142.6" x2="713.42" y2="175.7" stroke="#111" stroke-width="0.9"/>
<rect x="712.37" y="157.5" width="2.1" height="15.3" fill="#000"/>
<line x1="715.16" y1="159.0" x2="715.16" y2="228.0" stroke="#111" stroke-width="0.9"/>
<rect x="714.11" y="172.8" width="2.1" height="47.1" fill="#000"/>
<line x1="716.90" y1="182.7" x2="716.90" y2="229.7" stroke="#111" stroke-width="0.9"/>
<rect x="715.85" y="219.9" width="2.1" height="7.0" fill="#000"/>
<line x1="718.64" y1="195.2" x2="718.64" y2="231.0" stroke="#444" stroke-width="0.9"/>
<rect x="717.59" y="199.3" width="2.1" height="27.6" fill="#9a9a9a" stroke="#111" stroke-width="0.55"/>
<line x1="720.38" y1="187.8" x2="720.38" y2="218.0" stroke="#444" stroke-width="0.9"/>
<rect x="719.33" y="190.2" width="2.1" height="9.1" fill="#9a9a9a" stroke="#111" stroke-width="0.55"/>
<line x1="722.12" y1="178.7" x2="722.12" y2="213.2" stroke="#444" stroke-width="0.9"/>
<rect x="721.07" y="186.0" width="2.1" height="4.2" fill="#9a9a9a" stroke="#111" stroke-width="0.55"/>
<line x1="723.86" y1="178.7" x2="723.86" y2="204.8" stroke="#444" stroke-width="0.9"/>
<rect x="722.81" y="184.3" width="2.1" height="1.7" fill="#9a9a9a" stroke="#111" stroke-width="0.55"/>
<line x1="725.60" y1="178.7" x2="725.60" y2="196.7" stroke="#111" stroke-width="0.9"/>
<rect x="724.55" y="184.3" width="2.1" height="10.0" fill="#000"/>
<line x1="727.34" y1="187.0" x2="727.34" y2="215.0" stroke="#111" stroke-width="0.9"/>
<rect x="726.29" y="194.3" width="2.1" height="18.5" fill="#000"/>
<line x1="729.08" y1="198.4" x2="729.08" y2="226.1" stroke="#111" stroke-width="0.9"/>
<rect x="728.03" y="212.9" width="2.1" height="7.3" fill="#000"/>
<line x1="730.82" y1="205.0" x2="730.82" y2="237.8" stroke="#111" stroke-width="0.9"/>
<rect x="729.77" y="220.2" width="2.1" height="14.7" fill="#000"/>
<line x1="732.56" y1="226.0" x2="732.56" y2="252.0" stroke="#111" stroke-width="0.9"/>
<rect x="731.51" y="234.9" width="2.1" height="14.6" fill="#000"/>
<line x1="734.30" y1="242.6" x2="734.30" y2="267.6" stroke="#111" stroke-width="0.9"/>
<rect x="733.25" y="249.5" width="2.1" height="17.4" fill="#000"/>
<line x1="736.04" y1="239.6" x2="736.04" y2="268.4" stroke="#444" stroke-width="0.9"/>
<rect x="734.99" y="242.6" width="2.1" height="24.3" fill="#9a9a9a" stroke="#111" stroke-width="0.55"/>
<line x1="737.78" y1="235.0" x2="737.78" y2="261.0" stroke="#444" stroke-width="0.9"/>
<rect x="736.73" y="238.1" width="2.1" height="4.5" fill="#9a9a9a" stroke="#111" stroke-width="0.55"/>
<line x1="739.52" y1="243.7" x2="739.52" y2="259.8" stroke="#111" stroke-width="0.9"/>
<rect x="738.47" y="244.5" width="2.1" height="13.3" fill="#000"/>
<line x1="741.26" y1="242.0" x2="741.26" y2="267.0" stroke="#111" stroke-width="0.9"/>
<rect x="740.21" y="257.8" width="2.1" height="7.5" fill="#000"/>
<line x1="743.00" y1="250.0" x2="743.00" y2="256.0" stroke="#444" stroke-width="0.9"/>
<rect x="741.95" y="250.8" width="2.1" height="4.9" fill="#9a9a9a" stroke="#111" stroke-width="0.55"/>
</g>
<line x1="610.0" y1="399.5" x2="787.5" y2="228.6" stroke="#262626" stroke-width="1" stroke-dasharray="1.4 1.4"/>
<line x1="610.0" y1="326" x2="787.5" y2="155.1" stroke="#262626" stroke-width="1" stroke-dasharray="1.4 1.4"/>
<line x1="610.0" y1="252.5" x2="787.5" y2="81.6" stroke="#262626" stroke-width="1" stroke-dasharray="1.4 1.4"/>
<line x1="720" y1="177.2" x2="895" y2="177.2" stroke="#3a5cec" stroke-width="1.5"/>
<line x1="670.5" y1="329.6" x2="895" y2="329.6" stroke="#ee3b34" stroke-width="1.3"/>
<polyline points="744.6,254.6 775.9,64.1" fill="none" stroke="#2a4cf0" stroke-width="1.7"/>
<polyline points="768.5,70.6 775.9,64.1 781,75" fill="none" stroke="#2a4cf0" stroke-width="1.7" stroke-linejoin="miter"/>
<polyline points="746.2,257.8 779.8,452" fill="none" stroke="#f2392f" stroke-width="1.8"/>
<polyline points="772.4,445.8 779.8,452 784.7,441.1" fill="none" stroke="#f2392f" stroke-width="1.8"/>
<polygon points="800.4,156.5 805,161.8 801.6,161.8 801.6,171.8 793.2,171.8 795.4,169.1 799.5,169.1 799.5,161.8 795.9,161.8" fill="#000"/>
<polygon points="792.4,337.1 801.1,337.1 801.1,346.4 803,346.4 799.1,351 795.1,346.4 798,346.4 798,339.2 794.6,339.2" fill="#000"/>
<line x1="895.5" y1="0" x2="895.5" y2="550" stroke="#7c7c7c" stroke-width="1"/>
<line x1="0" y1="524.5" x2="932" y2="524.5" stroke="#555" stroke-width="1"/>
<line x1="895.5" y1="19.5" x2="897.8" y2="19.5" stroke="#5a5a5a" stroke-width="1"/>
<text x="900.71" y="23.69" font-size="10.70" textLength="26.24" lengthAdjust="spacingAndGlyphs" fill="#4a4a4a" >0.70000</text>
<line x1="895.5" y1="50.5" x2="897.8" y2="50.5" stroke="#5a5a5a" stroke-width="1"/>
<text x="900.71" y="54.76" font-size="10.70" textLength="26.24" lengthAdjust="spacingAndGlyphs" fill="#4a4a4a" >0.69800</text>
<line x1="895.5" y1="81.5" x2="897.8" y2="81.5" stroke="#5a5a5a" stroke-width="1"/>
<text x="900.71" y="85.83" font-size="10.70" textLength="26.24" lengthAdjust="spacingAndGlyphs" fill="#4a4a4a" >0.69600</text>
<line x1="895.5" y1="112.5" x2="897.8" y2="112.5" stroke="#5a5a5a" stroke-width="1"/>
<text x="900.71" y="116.90" font-size="10.70" textLength="26.24" lengthAdjust="spacingAndGlyphs" fill="#4a4a4a" >0.69400</text>
<line x1="895.5" y1="143.5" x2="897.8" y2="143.5" stroke="#5a5a5a" stroke-width="1"/>
<text x="900.71" y="147.97" font-size="10.70" textLength="26.24" lengthAdjust="spacingAndGlyphs" fill="#4a4a4a" >0.69200</text>
<line x1="895.5" y1="174.5" x2="897.8" y2="174.5" stroke="#5a5a5a" stroke-width="1"/>
<line x1="895.5" y1="205.5" x2="897.8" y2="205.5" stroke="#5a5a5a" stroke-width="1"/>
<text x="900.71" y="210.11" font-size="10.70" textLength="26.24" lengthAdjust="spacingAndGlyphs" fill="#4a4a4a" >0.68800</text>
<line x1="895.5" y1="236.5" x2="897.8" y2="236.5" stroke="#5a5a5a" stroke-width="1"/>
<text x="900.71" y="241.18" font-size="10.70" textLength="26.24" lengthAdjust="spacingAndGlyphs" fill="#4a4a4a" >0.68600</text>
<line x1="895.5" y1="267.5" x2="897.8" y2="267.5" stroke="#5a5a5a" stroke-width="1"/>
<line x1="895.5" y1="299.5" x2="897.8" y2="299.5" stroke="#5a5a5a" stroke-width="1"/>
<text x="900.71" y="303.32" font-size="10.70" textLength="26.24" lengthAdjust="spacingAndGlyphs" fill="#4a4a4a" >0.68200</text>
<line x1="895.5" y1="330.5" x2="897.8" y2="330.5" stroke="#5a5a5a" stroke-width="1"/>
<line x1="895.5" y1="361.5" x2="897.8" y2="361.5" stroke="#5a5a5a" stroke-width="1"/>
<text x="900.71" y="365.46" font-size="10.70" textLength="26.24" lengthAdjust="spacingAndGlyphs" fill="#4a4a4a" >0.67800</text>
<line x1="895.5" y1="392.5" x2="897.8" y2="392.5" stroke="#5a5a5a" stroke-width="1"/>
<text x="900.71" y="396.53" font-size="10.70" textLength="26.24" lengthAdjust="spacingAndGlyphs" fill="#4a4a4a" >0.67600</text>
<line x1="895.5" y1="423.5" x2="897.8" y2="423.5" stroke="#5a5a5a" stroke-width="1"/>
<text x="900.71" y="427.60" font-size="10.70" textLength="26.24" lengthAdjust="spacingAndGlyphs" fill="#4a4a4a" >0.67400</text>
<line x1="895.5" y1="454.5" x2="897.8" y2="454.5" stroke="#5a5a5a" stroke-width="1"/>
<text x="900.71" y="458.67" font-size="10.70" textLength="26.24" lengthAdjust="spacingAndGlyphs" fill="#4a4a4a" >0.67200</text>
<line x1="895.5" y1="485.5" x2="897.8" y2="485.5" stroke="#5a5a5a" stroke-width="1"/>
<text x="900.71" y="489.74" font-size="10.70" textLength="26.24" lengthAdjust="spacingAndGlyphs" fill="#4a4a4a" >0.67000</text>
<line x1="895.5" y1="516.5" x2="897.8" y2="516.5" stroke="#5a5a5a" stroke-width="1"/>
<text x="900.71" y="520.81" font-size="10.70" textLength="26.24" lengthAdjust="spacingAndGlyphs" fill="#4a4a4a" >0.66800</text>
<line x1="37.5" y1="524.5" x2="37.5" y2="527.5" stroke="#555" stroke-width="1"/>
<text x="32.91" y="542.09" font-size="10.99" textLength="8.72" lengthAdjust="spacingAndGlyphs" fill="#4a4a4a" >16</text>
<line x1="90.5" y1="524.5" x2="90.5" y2="527.5" stroke="#555" stroke-width="1"/>
<text x="85.52" y="542.09" font-size="10.99" textLength="8.51" lengthAdjust="spacingAndGlyphs" fill="#4a4a4a" >23</text>
<line x1="152.5" y1="524.5" x2="152.5" y2="527.5" stroke="#555" stroke-width="1"/>
<text x="146.62" y="542.09" font-size="10.99" textLength="11.27" lengthAdjust="spacingAndGlyphs" fill="#4a4a4a" >Oct</text>
<line x1="248.5" y1="524.5" x2="248.5" y2="527.5" stroke="#555" stroke-width="1"/>
<text x="243.42" y="542.09" font-size="10.99" textLength="8.63" lengthAdjust="spacingAndGlyphs" fill="#4a4a4a" >14</text>
<line x1="300.5" y1="524.5" x2="300.5" y2="527.5" stroke="#555" stroke-width="1"/>
<text x="295.72" y="542.09" font-size="10.99" textLength="8.55" lengthAdjust="spacingAndGlyphs" fill="#4a4a4a" >21</text>
<line x1="395.5" y1="524.5" x2="395.5" y2="527.5" stroke="#555" stroke-width="1"/>
<text x="388.51" y="542.09" font-size="10.99" textLength="12.07" lengthAdjust="spacingAndGlyphs" fill="#4a4a4a" >Nov</text>
<line x1="458.5" y1="524.5" x2="458.5" y2="527.5" stroke="#555" stroke-width="1"/>
<text x="453.46" y="542.09" font-size="10.99" textLength="8.85" lengthAdjust="spacingAndGlyphs" fill="#4a4a4a" >11</text>
<line x1="510.5" y1="524.5" x2="510.5" y2="527.5" stroke="#555" stroke-width="1"/>
<text x="505.91" y="542.09" font-size="10.99" textLength="8.72" lengthAdjust="spacingAndGlyphs" fill="#4a4a4a" >18</text>
<line x1="563.5" y1="524.5" x2="563.5" y2="527.5" stroke="#555" stroke-width="1"/>
<text x="558.92" y="542.09" font-size="10.99" textLength="8.51" lengthAdjust="spacingAndGlyphs" fill="#4a4a4a" >25</text>
<line x1="614.5" y1="524.5" x2="614.5" y2="527.5" stroke="#555" stroke-width="1"/>
<text x="607.90" y="542.09" font-size="10.99" textLength="12.21" lengthAdjust="spacingAndGlyphs" fill="#4a4a4a" >Dec</text>
<line x1="668.5" y1="524.5" x2="668.5" y2="527.5" stroke="#555" stroke-width="1"/>
<text x="665.71" y="542.09" font-size="10.99" textLength="4.78" lengthAdjust="spacingAndGlyphs" fill="#4a4a4a" >9</text>
<line x1="721.5" y1="524.5" x2="721.5" y2="527.5" stroke="#555" stroke-width="1"/>
<text x="716.71" y="542.09" font-size="10.99" textLength="8.72" lengthAdjust="spacingAndGlyphs" fill="#4a4a4a" >16</text>
<line x1="773.5" y1="524.5" x2="773.5" y2="527.5" stroke="#555" stroke-width="1"/>
<text x="768.82" y="542.09" font-size="10.99" textLength="8.51" lengthAdjust="spacingAndGlyphs" fill="#4a4a4a" >23</text>
<line x1="847.5" y1="524.5" x2="847.5" y2="527.5" stroke="#555" stroke-width="1"/>
<text x="838.46" y="542.09" font-size="10.99" textLength="17.15" lengthAdjust="spacingAndGlyphs" fill="#4a4a4a" >2020</text>
<rect x="895" y="169" width="37" height="16" fill="#1c3fe6"/>
<line x1="895" y1="177.5" x2="899" y2="177.5" stroke="#cfd8ff" stroke-width="1"/>
<rect x="895" y="321.5" width="37" height="16" fill="#ef3b33"/>
<line x1="895" y1="329.5" x2="899" y2="329.5" stroke="#ffd0d0" stroke-width="1"/>
<rect x="895" y="245" width="37" height="15" fill="#d3d6df"/>
<line x1="895" y1="252.5" x2="899" y2="252.5" stroke="#333" stroke-width="1"/>
<rect x="896" y="261.5" width="36" height="16" fill="#d3d6df"/>
<text x="5.00" y="19.80" font-size="12.17" textLength="158.87" lengthAdjust="spacingAndGlyphs" fill="#4d4d4d" font-weight="bold" >Australian Dollar / U.S. Dollar, 240, FXCM</text>
<text x="515.27" y="145.70" font-size="30.58" textLength="90.34" lengthAdjust="spacingAndGlyphs" fill="#000" font-weight="bold" >AUDUSD</text>
<text x="504.62" y="183.50" font-size="29.42" textLength="121.74" lengthAdjust="spacingAndGlyphs" fill="#000" >Bull or Bear?</text>
<text x="844.58" y="173.79" font-size="11.27" textLength="47.15" lengthAdjust="spacingAndGlyphs" fill="#222" >Confirmation</text>
<text x="848.23" y="340.80" font-size="11.30" textLength="43.42" lengthAdjust="spacingAndGlyphs" fill="#222" >Invalidation</text>
<path d="M385.9,113.5 L384.1,113.5 L381.7,116.0 L381.7,118.0 L384.0,116.0 L384.0,126.5 L385.9,126.5 Z" fill="#1a2db0"/>
<text x="607.90" y="417.70" font-size="19.86" textLength="7.82" lengthAdjust="spacingAndGlyphs" fill="#1a2db0" >2</text>
<text x="794.49" y="34.11" font-size="18.87" textLength="7.03" lengthAdjust="spacingAndGlyphs" fill="#1a2db0" >3</text>
<text x="622.50" y="226.60" font-size="14.76" textLength="11.39" lengthAdjust="spacingAndGlyphs" fill="#ee2b24" font-weight="bold" >(i)</text>
<text x="676.81" y="343.75" font-size="14.55" textLength="14.44" lengthAdjust="spacingAndGlyphs" fill="#ee2b24" font-weight="bold" >(ii)</text>
<text x="773.09" y="28.01" font-size="14.22" textLength="18.42" lengthAdjust="spacingAndGlyphs" fill="#ee2b24" font-weight="bold" >(iii)</text>
<text x="705.94" y="109.60" font-size="15.03" textLength="3.95" lengthAdjust="spacingAndGlyphs" fill="#3469d8" >i</text>
<text x="732.81" y="285.00" font-size="14.48" textLength="7.45" lengthAdjust="spacingAndGlyphs" fill="#3469d8" >ii</text>
<text x="771.32" y="49.50" font-size="14.34" textLength="11.09" lengthAdjust="spacingAndGlyphs" fill="#3469d8" >iii</text>
<text x="900.71" y="180.89" font-size="10.70" textLength="25.87" lengthAdjust="spacingAndGlyphs" fill="#fff" font-weight="bold" >0.68987</text>
<text x="900.62" y="333.39" font-size="10.70" textLength="25.72" lengthAdjust="spacingAndGlyphs" fill="#fff" font-weight="bold" >0.68004</text>
<text x="900.71" y="256.79" font-size="10.70" textLength="25.87" lengthAdjust="spacingAndGlyphs" fill="#111" >0.68498</text>
<text x="897.71" y="273.29" font-size="10.70" textLength="28.54" lengthAdjust="spacingAndGlyphs" fill="#111" stroke="#111" stroke-width="0.25">03:33:21</text>
</svg>
</body></html>
